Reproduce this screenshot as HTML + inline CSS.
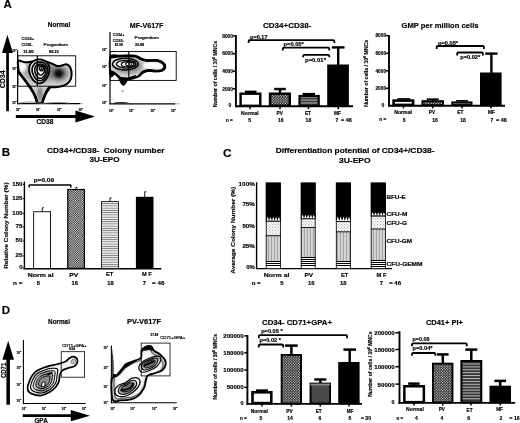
<!DOCTYPE html>
<html><head><meta charset="utf-8"><title>Figure</title>
<style>
html,body{margin:0;padding:0;background:#fff;}
body{width:520px;height:423px;overflow:hidden;}
svg{display:block;font-family:"Liberation Sans",Arial,Helvetica,sans-serif;}
text{stroke:#000;stroke-width:.16px;}
</style></head><body>
<svg width="520" height="423" viewBox="0 0 520 423">
<defs>
<pattern id="chk" width="2.3" height="2.3" patternUnits="userSpaceOnUse"><rect width="2.3" height="2.3" fill="#fff"/><rect width="1.15" height="1.15" fill="#000"/><rect x="1.15" y="1.15" width="1.15" height="1.15" fill="#000"/></pattern>
<pattern id="chkA" width="2.6" height="2.6" patternUnits="userSpaceOnUse"><rect width="2.6" height="2.6" fill="#000"/><circle cx="0.65" cy="0.65" r="0.66" fill="#fff"/><circle cx="1.95" cy="1.95" r="0.66" fill="#fff"/></pattern>
<pattern id="hsA" width="4" height="2.9" patternUnits="userSpaceOnUse"><rect width="4" height="2.9" fill="#111"/><rect y="0.8" width="4" height="1.4" fill="#bdbdbd"/></pattern>
<pattern id="hsB" width="4" height="2.25" patternUnits="userSpaceOnUse"><rect width="4" height="2.25" fill="#f6f6f6"/><rect y="0.7" width="4" height="0.9" fill="#777"/></pattern>
<pattern id="hsC" width="4" height="2.2" patternUnits="userSpaceOnUse"><rect width="4" height="2.2" fill="#eee"/><rect y="0.6" width="4" height="1" fill="#222"/></pattern>
<pattern id="vs" width="3" height="4" patternUnits="userSpaceOnUse"><rect width="3" height="4" fill="#dcdcdc"/><rect x="0.8" width="1.3" height="4" fill="#a4a4a4"/></pattern>
<pattern id="dot" width="3" height="3" patternUnits="userSpaceOnUse"><rect width="3" height="3" fill="#fafafa"/><rect x="0.5" y="0.5" width="0.9" height="0.9" fill="#999"/><rect x="2" y="2" width="0.9" height="0.9" fill="#999"/></pattern>
<pattern id="tri" width="3.4" height="3.4" patternUnits="userSpaceOnUse"><rect width="3.4" height="3.4" fill="#000"/><path d="M0 1.7L1.7 0L3.4 1.7L1.7 3.4Z" fill="#fff"/></pattern>
<radialGradient id="rg1"><stop offset="0" stop-color="#1a1a1a"/><stop offset="0.45" stop-color="#555"/><stop offset="1" stop-color="#999" stop-opacity="0"/></radialGradient>
<filter id="soft" x="0" y="0" width="100%" height="100%" filterUnits="userSpaceOnUse"><feGaussianBlur stdDeviation="0.38"/></filter>
<filter id="b1" x="-20%" y="-20%" width="140%" height="140%"><feGaussianBlur stdDeviation="0.5"/></filter>
<filter id="b2" x="-30%" y="-30%" width="160%" height="160%"><feGaussianBlur stdDeviation="1.2"/></filter>
<filter id="b3" x="-30%" y="-30%" width="160%" height="160%"><feGaussianBlur stdDeviation="2.2"/></filter>
</defs>
<rect width="520" height="423" fill="#fff"/>
<g filter="url(#soft)">

<text x="3.50" y="8.32" font-size="11.5" font-weight="bold" text-anchor="start" fill="#000">A</text>
<text x="1.80" y="155.62" font-size="11.5" font-weight="bold" text-anchor="start" fill="#000">B</text>
<text x="222.90" y="156.52" font-size="11.8" font-weight="bold" text-anchor="start" fill="#000">C</text>
<text x="1.80" y="313.62" font-size="11.5" font-weight="bold" text-anchor="start" fill="#000">D</text>
<g id="flowA1">
<text x="59.00" y="27.03" font-size="6.8" font-weight="bold" text-anchor="middle" fill="#000" textLength="22.5" lengthAdjust="spacingAndGlyphs">Normal</text>
<path d="M7.4 34.8L13 53.1H8.9V111.3H6.2V53.1H2Z" fill="#000"/>
<path d="M15.8 115.1H75.4V110.5L95 116.5L75.4 122.5V117.9H15.8Z" fill="#000"/>
<text transform="translate(5.13 79.30) rotate(-90)" font-size="6.5" font-weight="bold" text-anchor="middle" fill="#000" textLength="18.0" lengthAdjust="spacingAndGlyphs">CD34</text>
<text x="45.00" y="123.99" font-size="6.4" font-weight="bold" text-anchor="middle" fill="#000" textLength="16.8" lengthAdjust="spacingAndGlyphs">CD38</text>
<line x1="17.60" y1="50.00" x2="17.60" y2="104.20" stroke="#000" stroke-width="1.2" stroke-linecap="butt"/>
<line x1="17.00" y1="103.70" x2="80.00" y2="103.70" stroke="#000" stroke-width="1.2" stroke-linecap="butt"/>
<line x1="80.00" y1="103.70" x2="83.00" y2="103.70" stroke="#999" stroke-width="1.0" stroke-linecap="butt"/>
<text x="21.50" y="40.10" font-size="4.2" font-weight="normal" text-anchor="start" fill="#000" textLength="12.6" lengthAdjust="spacingAndGlyphs" style="stroke-width:.22px">CD34+</text>
<text x="21.50" y="45.50" font-size="4.2" font-weight="normal" text-anchor="start" fill="#000" textLength="11.0" lengthAdjust="spacingAndGlyphs" style="stroke-width:.22px">CD38-</text>
<text x="23.20" y="53.37" font-size="3" font-weight="bold" text-anchor="start" fill="#000" textLength="10.4" lengthAdjust="spacingAndGlyphs">11.90</text>
<text x="43.50" y="45.50" font-size="4.2" font-weight="normal" text-anchor="start" fill="#000" textLength="24.5" lengthAdjust="spacingAndGlyphs" style="stroke-width:.22px">Progenitors</text>
<text x="49.00" y="53.37" font-size="3" font-weight="bold" text-anchor="start" fill="#000" textLength="9.6" lengthAdjust="spacingAndGlyphs">88.10</text>
<text x="12.20" y="52.14" font-size="2.9" font-weight="bold" text-anchor="start" fill="#000" textLength="3.2" lengthAdjust="spacingAndGlyphs">10</text>
<text x="15.40" y="50.22" font-size="2" font-weight="bold" text-anchor="start" fill="#000" textLength="1.2" lengthAdjust="spacingAndGlyphs">3</text>
<text x="12.20" y="69.64" font-size="2.9" font-weight="bold" text-anchor="start" fill="#000" textLength="3.2" lengthAdjust="spacingAndGlyphs">10</text>
<text x="15.40" y="67.72" font-size="2" font-weight="bold" text-anchor="start" fill="#000" textLength="1.2" lengthAdjust="spacingAndGlyphs">2</text>
<text x="12.20" y="88.14" font-size="2.9" font-weight="bold" text-anchor="start" fill="#000" textLength="3.2" lengthAdjust="spacingAndGlyphs">10</text>
<text x="15.40" y="86.22" font-size="2" font-weight="bold" text-anchor="start" fill="#000" textLength="1.2" lengthAdjust="spacingAndGlyphs">1</text>
<text x="12.20" y="104.14" font-size="2.9" font-weight="bold" text-anchor="start" fill="#000" textLength="3.2" lengthAdjust="spacingAndGlyphs">10</text>
<text x="15.40" y="102.22" font-size="2" font-weight="bold" text-anchor="start" fill="#000" textLength="1.2" lengthAdjust="spacingAndGlyphs">0</text>
<text x="16.00" y="110.64" font-size="2.9" font-weight="bold" text-anchor="start" fill="#000" textLength="3.2" lengthAdjust="spacingAndGlyphs">10</text>
<text x="19.30" y="108.72" font-size="2" font-weight="bold" text-anchor="start" fill="#000" textLength="1.2" lengthAdjust="spacingAndGlyphs">0</text>
<text x="36.00" y="110.64" font-size="2.9" font-weight="bold" text-anchor="start" fill="#000" textLength="3.2" lengthAdjust="spacingAndGlyphs">10</text>
<text x="39.30" y="108.72" font-size="2" font-weight="bold" text-anchor="start" fill="#000" textLength="1.2" lengthAdjust="spacingAndGlyphs">1</text>
<text x="57.00" y="110.64" font-size="2.9" font-weight="bold" text-anchor="start" fill="#000" textLength="3.2" lengthAdjust="spacingAndGlyphs">10</text>
<text x="60.30" y="108.72" font-size="2" font-weight="bold" text-anchor="start" fill="#000" textLength="1.2" lengthAdjust="spacingAndGlyphs">2</text>
<text x="78.50" y="110.64" font-size="2.9" font-weight="bold" text-anchor="start" fill="#000" textLength="3.2" lengthAdjust="spacingAndGlyphs">10</text>
<text x="81.80" y="108.72" font-size="2" font-weight="bold" text-anchor="start" fill="#000" textLength="1.2" lengthAdjust="spacingAndGlyphs">3</text>
<clipPath id="cA1"><path d="M18.3 60.6C19.4 59.8 22.3 62.2 25.0 62.3C27.7 62.4 31.4 61.4 34.6 61.2C37.8 61.0 41.3 60.6 44.2 61.0C47.1 61.4 49.8 62.8 52.0 63.6C54.2 64.4 56.0 65.7 57.7 66.0C59.4 66.3 60.6 65.8 62.0 65.5C63.4 65.2 64.9 63.9 66.3 64.2C67.7 64.5 69.3 65.5 70.2 67.3C71.1 69.1 71.7 72.6 71.6 75.0C71.5 77.4 70.8 79.9 69.4 81.7C68.1 83.5 65.8 84.7 63.5 85.6C61.2 86.5 58.1 87.0 55.8 87.3C53.5 87.6 51.1 86.8 49.5 87.5C47.9 88.2 47.4 89.5 46.4 91.3C45.4 93.0 44.3 96.1 43.6 98.0C42.9 99.9 43.2 101.8 42.2 102.5C41.2 103.2 38.4 103.4 37.3 102.5C36.2 101.6 36.2 98.9 35.4 97.0C34.6 95.1 33.8 93.2 32.7 91.3C31.6 89.4 30.2 87.7 28.8 85.6C27.4 83.5 25.6 80.9 24.0 78.8C22.4 76.7 20.4 75.0 19.4 73.0C18.4 71.0 18.4 69.1 18.2 67.0C18.0 64.9 17.2 61.4 18.3 60.6Z"/></clipPath>
<path d="M18.3 60.6C19.4 59.8 22.3 62.2 25.0 62.3C27.7 62.4 31.4 61.4 34.6 61.2C37.8 61.0 41.3 60.6 44.2 61.0C47.1 61.4 49.8 62.8 52.0 63.6C54.2 64.4 56.0 65.7 57.7 66.0C59.4 66.3 60.6 65.8 62.0 65.5C63.4 65.2 64.9 63.9 66.3 64.2C67.7 64.5 69.3 65.5 70.2 67.3C71.1 69.1 71.7 72.6 71.6 75.0C71.5 77.4 70.8 79.9 69.4 81.7C68.1 83.5 65.8 84.7 63.5 85.6C61.2 86.5 58.1 87.0 55.8 87.3C53.5 87.6 51.1 86.8 49.5 87.5C47.9 88.2 47.4 89.5 46.4 91.3C45.4 93.0 44.3 96.1 43.6 98.0C42.9 99.9 43.2 101.8 42.2 102.5C41.2 103.2 38.4 103.4 37.3 102.5C36.2 101.6 36.2 98.9 35.4 97.0C34.6 95.1 33.8 93.2 32.7 91.3C31.6 89.4 30.2 87.7 28.8 85.6C27.4 83.5 25.6 80.9 24.0 78.8C22.4 76.7 20.4 75.0 19.4 73.0C18.4 71.0 18.4 69.1 18.2 67.0C18.0 64.9 17.2 61.4 18.3 60.6Z" fill="#cfcfcf"/>
<g clip-path="url(#cA1)">
<ellipse cx="41" cy="70" rx="17" ry="12" fill="#9a9a9a" filter="url(#b3)"/>
<ellipse cx="58.7" cy="73.5" rx="9" ry="7.5" fill="#6a6a6a" filter="url(#b3)"/>
<ellipse cx="58.7" cy="73.5" rx="4.5" ry="4" fill="#111" filter="url(#b2)"/>
<ellipse cx="40" cy="94" rx="3" ry="7" fill="#888" filter="url(#b2)"/>
<ellipse cx="22.5" cy="67" rx="3.6" ry="4.2" fill="#fff" filter="url(#b2)"/>
</g>
<path d="M19.4 73Q24 78.8 28.8 85.6T35.4 97L37.2 102.4" fill="none" stroke="#000" stroke-width="2.6" stroke-linecap="round"/>
<path d="M49.5 87.6Q46.6 91 43.8 98L42.4 102.4" fill="none" stroke="#000" stroke-width="2.6" stroke-linecap="round"/>
<path d="M18.3 60.6C19.4 59.8 22.3 62.2 25.0 62.3C27.7 62.4 31.4 61.4 34.6 61.2C37.8 61.0 41.3 60.6 44.2 61.0C47.1 61.4 49.8 62.8 52.0 63.6C54.2 64.4 56.0 65.7 57.7 66.0C59.4 66.3 60.6 65.8 62.0 65.5C63.4 65.2 64.9 63.9 66.3 64.2C67.7 64.5 69.3 65.5 70.2 67.3C71.1 69.1 71.7 72.6 71.6 75.0C71.5 77.4 70.8 79.9 69.4 81.7C68.1 83.5 65.8 84.7 63.5 85.6C61.2 86.5 58.1 87.0 55.8 87.3C53.5 87.6 51.1 86.8 49.5 87.5C47.9 88.2 47.4 89.5 46.4 91.3C45.4 93.0 44.3 96.1 43.6 98.0C42.9 99.9 43.2 101.8 42.2 102.5C41.2 103.2 38.4 103.4 37.3 102.5C36.2 101.6 36.2 98.9 35.4 97.0C34.6 95.1 33.8 93.2 32.7 91.3C31.6 89.4 30.2 87.7 28.8 85.6C27.4 83.5 25.6 80.9 24.0 78.8C22.4 76.7 20.4 75.0 19.4 73.0C18.4 71.0 18.4 69.1 18.2 67.0C18.0 64.9 17.2 61.4 18.3 60.6Z" fill="none" stroke="#000" stroke-width="2" stroke-linejoin="round"/>
<path d="M49.3 71.4C49.1 72.9 48.5 74.6 47.9 76.0C47.3 77.4 46.4 78.8 45.5 79.9C44.6 81.0 43.5 81.9 42.5 82.5C41.5 83.1 40.4 83.4 39.3 83.4C38.2 83.4 37.1 83.1 36.1 82.5C35.1 81.9 34.0 81.0 33.1 79.9C32.2 78.8 31.3 77.4 30.7 76.0C30.1 74.6 29.5 72.9 29.3 71.4C29.1 69.9 29.1 68.2 29.4 66.8C29.8 65.4 30.4 64.0 31.3 62.9C32.2 61.8 33.5 60.9 34.8 60.3C36.2 59.7 37.8 59.4 39.3 59.4C40.8 59.4 42.4 59.7 43.8 60.3C45.1 60.9 46.4 61.8 47.3 62.9C48.2 64.0 48.8 65.4 49.2 66.8C49.5 68.2 49.5 69.9 49.3 71.4Z" fill="#f4f4f4"/>
<path d="M49.3 71.4C49.1 72.9 48.5 74.6 47.9 76.0C47.3 77.4 46.4 78.8 45.5 79.9C44.6 81.0 43.5 81.9 42.5 82.5C41.5 83.1 40.4 83.4 39.3 83.4C38.2 83.4 37.1 83.1 36.1 82.5C35.1 81.9 34.0 81.0 33.1 79.9C32.2 78.8 31.3 77.4 30.7 76.0C30.1 74.6 29.5 72.9 29.3 71.4C29.1 69.9 29.1 68.2 29.4 66.8C29.8 65.4 30.4 64.0 31.3 62.9C32.2 61.8 33.5 60.9 34.8 60.3C36.2 59.7 37.8 59.4 39.3 59.4C40.8 59.4 42.4 59.7 43.8 60.3C45.1 60.9 46.4 61.8 47.3 62.9C48.2 64.0 48.8 65.4 49.2 66.8C49.5 68.2 49.5 69.9 49.3 71.4Z" fill="none" stroke="#000" stroke-width="1.9"/>
<path d="M47.6 71.3C47.4 72.5 47.0 73.8 46.5 74.9C46.0 76.0 45.3 77.1 44.7 77.9C44.0 78.8 43.1 79.5 42.4 80.0C41.6 80.4 40.7 80.7 39.9 80.7C39.1 80.7 38.2 80.4 37.4 80.0C36.7 79.5 35.8 78.8 35.1 77.9C34.5 77.1 33.8 76.0 33.3 74.9C32.8 73.8 32.4 72.5 32.2 71.3C32.0 70.1 32.0 68.8 32.3 67.7C32.6 66.6 33.1 65.5 33.8 64.7C34.5 63.8 35.4 63.1 36.5 62.6C37.5 62.2 38.8 61.9 39.9 61.9C41.0 61.9 42.3 62.2 43.3 62.6C44.4 63.1 45.3 63.8 46.0 64.7C46.7 65.5 47.2 66.6 47.5 67.7C47.8 68.8 47.8 70.1 47.6 71.3Z" fill="none" stroke="#000" stroke-width="1.7"/>
<path d="M46.0 71.1C45.9 72.0 45.6 73.0 45.2 73.9C44.9 74.7 44.4 75.5 43.9 76.2C43.4 76.8 42.8 77.4 42.2 77.8C41.6 78.1 41.0 78.3 40.4 78.3C39.8 78.3 39.2 78.1 38.6 77.8C38.0 77.4 37.4 76.8 36.9 76.2C36.4 75.5 35.9 74.7 35.6 73.9C35.2 73.0 34.9 72.0 34.8 71.1C34.7 70.2 34.7 69.2 34.9 68.3C35.1 67.5 35.4 66.7 35.9 66.0C36.4 65.4 37.2 64.8 37.9 64.4C38.6 64.1 39.6 63.9 40.4 63.9C41.2 63.9 42.2 64.1 42.9 64.4C43.6 64.8 44.4 65.4 44.9 66.0C45.4 66.7 45.7 67.5 45.9 68.3C46.1 69.2 46.1 70.2 46.0 71.1Z" fill="none" stroke="#000" stroke-width="1.5"/>
<path d="M44.6 70.1C44.5 70.7 44.3 71.4 44.1 72.0C43.8 72.6 43.5 73.2 43.1 73.6C42.8 74.1 42.4 74.5 42.0 74.7C41.6 75.0 41.2 75.1 40.8 75.1C40.4 75.1 40.0 75.0 39.6 74.7C39.2 74.5 38.8 74.1 38.5 73.6C38.1 73.2 37.8 72.6 37.5 72.0C37.3 71.4 37.1 70.7 37.0 70.1C36.9 69.5 36.9 68.8 37.0 68.2C37.2 67.6 37.4 67.0 37.8 66.6C38.1 66.1 38.6 65.7 39.1 65.5C39.6 65.2 40.2 65.1 40.8 65.1C41.4 65.1 42.0 65.2 42.5 65.5C43.0 65.7 43.5 66.1 43.8 66.6C44.2 67.0 44.4 67.6 44.6 68.2C44.7 68.8 44.7 69.5 44.6 70.1Z" fill="none" stroke="#000" stroke-width="1.4"/>
<path d="M43.6 68.6C43.6 68.9 43.4 69.2 43.3 69.5C43.2 69.8 43.0 70.0 42.8 70.2C42.6 70.4 42.4 70.6 42.2 70.7C42.0 70.8 41.7 70.9 41.5 70.9C41.3 70.9 41.0 70.8 40.8 70.7C40.6 70.6 40.4 70.4 40.2 70.2C40.0 70.0 39.8 69.8 39.7 69.5C39.6 69.2 39.4 68.9 39.4 68.6C39.4 68.3 39.4 68.0 39.4 67.7C39.5 67.4 39.6 67.2 39.8 67.0C40.0 66.8 40.3 66.6 40.6 66.5C40.8 66.4 41.2 66.3 41.5 66.3C41.8 66.3 42.2 66.4 42.4 66.5C42.7 66.6 43.0 66.8 43.2 67.0C43.4 67.2 43.5 67.4 43.6 67.7C43.6 68.0 43.6 68.3 43.6 68.6Z" fill="none" stroke="#000" stroke-width="1.4"/>
<path d="M41.6 66.8L43 70L40.2 69.6Z" fill="#000"/>
<rect x="17.9" y="55.8" width="57.8" height="30.4" fill="none" stroke="#000" stroke-width="0.9"/>
<line x1="37.30" y1="55.80" x2="37.30" y2="86.20" stroke="#000" stroke-width="1.2" stroke-linecap="butt"/>
<path d="M19 103.2Q30 101.2 36 102.6T50 102.8T70 103.2" fill="none" stroke="#777" stroke-width="0.8"/>
</g>
<g id="flowA2">
<text x="146.60" y="28.12" font-size="7.6" font-weight="bold" text-anchor="middle" fill="#000" textLength="33.7" lengthAdjust="spacingAndGlyphs">MF-V617F</text>
<line x1="110.00" y1="32.00" x2="110.00" y2="104.20" stroke="#000" stroke-width="1.2" stroke-linecap="butt"/>
<line x1="109.40" y1="103.80" x2="175.00" y2="103.80" stroke="#000" stroke-width="1.2" stroke-linecap="butt"/>
<line x1="175.00" y1="103.80" x2="180.00" y2="103.80" stroke="#aaa" stroke-width="1" stroke-linecap="butt"/>
<text x="112.80" y="36.03" font-size="4" font-weight="normal" text-anchor="start" fill="#000" textLength="11.5" lengthAdjust="spacingAndGlyphs" style="stroke-width:.22px">CD34+</text>
<text x="112.80" y="41.63" font-size="4" font-weight="normal" text-anchor="start" fill="#000" textLength="11.0" lengthAdjust="spacingAndGlyphs" style="stroke-width:.22px">CD38-</text>
<text x="114.80" y="45.84" font-size="2.9" font-weight="bold" text-anchor="start" fill="#000" textLength="8.0" lengthAdjust="spacingAndGlyphs">91.59</text>
<text x="134.60" y="38.50" font-size="4.2" font-weight="normal" text-anchor="start" fill="#000" textLength="24.2" lengthAdjust="spacingAndGlyphs" style="stroke-width:.22px">Progenitors</text>
<text x="135.00" y="45.64" font-size="2.9" font-weight="bold" text-anchor="start" fill="#000" textLength="9.0" lengthAdjust="spacingAndGlyphs">33.99</text>
<text x="102.00" y="51.14" font-size="2.9" font-weight="bold" text-anchor="start" fill="#000" textLength="3.4" lengthAdjust="spacingAndGlyphs">10</text>
<text x="105.50" y="49.22" font-size="2" font-weight="bold" text-anchor="start" fill="#000" textLength="1.3" lengthAdjust="spacingAndGlyphs">3</text>
<text x="102.00" y="68.14" font-size="2.9" font-weight="bold" text-anchor="start" fill="#000" textLength="3.4" lengthAdjust="spacingAndGlyphs">10</text>
<text x="105.50" y="66.22" font-size="2" font-weight="bold" text-anchor="start" fill="#000" textLength="1.3" lengthAdjust="spacingAndGlyphs">2</text>
<text x="102.00" y="87.14" font-size="2.9" font-weight="bold" text-anchor="start" fill="#000" textLength="3.4" lengthAdjust="spacingAndGlyphs">10</text>
<text x="105.50" y="85.22" font-size="2" font-weight="bold" text-anchor="start" fill="#000" textLength="1.3" lengthAdjust="spacingAndGlyphs">1</text>
<text x="102.00" y="104.14" font-size="2.9" font-weight="bold" text-anchor="start" fill="#000" textLength="3.4" lengthAdjust="spacingAndGlyphs">10</text>
<text x="105.50" y="102.22" font-size="2" font-weight="bold" text-anchor="start" fill="#000" textLength="1.3" lengthAdjust="spacingAndGlyphs">0</text>
<text x="109.00" y="111.64" font-size="2.9" font-weight="bold" text-anchor="start" fill="#000" textLength="3.4" lengthAdjust="spacingAndGlyphs">10</text>
<text x="112.50" y="109.72" font-size="2" font-weight="bold" text-anchor="start" fill="#000" textLength="1.3" lengthAdjust="spacingAndGlyphs">0</text>
<text x="129.00" y="111.64" font-size="2.9" font-weight="bold" text-anchor="start" fill="#000" textLength="3.4" lengthAdjust="spacingAndGlyphs">10</text>
<text x="132.50" y="109.72" font-size="2" font-weight="bold" text-anchor="start" fill="#000" textLength="1.3" lengthAdjust="spacingAndGlyphs">1</text>
<text x="150.50" y="111.64" font-size="2.9" font-weight="bold" text-anchor="start" fill="#000" textLength="3.4" lengthAdjust="spacingAndGlyphs">10</text>
<text x="154.00" y="109.72" font-size="2" font-weight="bold" text-anchor="start" fill="#000" textLength="1.3" lengthAdjust="spacingAndGlyphs">2</text>
<text x="171.00" y="111.64" font-size="2.9" font-weight="bold" text-anchor="start" fill="#000" textLength="3.4" lengthAdjust="spacingAndGlyphs">10</text>
<text x="174.50" y="109.72" font-size="2" font-weight="bold" text-anchor="start" fill="#000" textLength="1.3" lengthAdjust="spacingAndGlyphs">3</text>
<clipPath id="cA2"><path d="M110.6 57.0C112.2 53.7 115.9 56.0 120.0 55.8C124.1 55.6 131.4 55.2 135.0 55.8C138.6 56.3 139.2 58.3 141.3 59.1C143.4 59.9 144.8 60.2 147.5 60.4C150.2 60.6 154.8 59.9 157.5 60.4C160.2 60.9 162.5 62.2 163.8 63.4C165.1 64.6 165.5 66.2 165.2 67.4C164.9 68.6 163.6 70.0 161.9 70.6C160.2 71.2 157.2 71.2 155.0 71.2C152.8 71.2 150.9 70.4 148.8 70.6C146.7 70.8 144.2 71.5 142.5 72.4C140.8 73.3 140.5 75.1 138.8 76.1C137.1 77.1 134.4 78.0 132.5 78.6C130.6 79.2 128.9 78.5 127.5 79.5C126.0 80.5 124.8 84.0 123.8 84.5C122.8 85.0 122.1 83.6 121.3 82.4C120.5 81.2 119.9 79.0 118.8 77.6C117.7 76.2 115.8 74.1 114.4 73.8C113.0 73.5 111.2 78.3 110.6 75.5C110.0 72.7 109.0 60.3 110.6 57.0Z"/></clipPath>
<path d="M110.6 57.0C112.2 53.7 115.9 56.0 120.0 55.8C124.1 55.6 131.4 55.2 135.0 55.8C138.6 56.3 139.2 58.3 141.3 59.1C143.4 59.9 144.8 60.2 147.5 60.4C150.2 60.6 154.8 59.9 157.5 60.4C160.2 60.9 162.5 62.2 163.8 63.4C165.1 64.6 165.5 66.2 165.2 67.4C164.9 68.6 163.6 70.0 161.9 70.6C160.2 71.2 157.2 71.2 155.0 71.2C152.8 71.2 150.9 70.4 148.8 70.6C146.7 70.8 144.2 71.5 142.5 72.4C140.8 73.3 140.5 75.1 138.8 76.1C137.1 77.1 134.4 78.0 132.5 78.6C130.6 79.2 128.9 78.5 127.5 79.5C126.0 80.5 124.8 84.0 123.8 84.5C122.8 85.0 122.1 83.6 121.3 82.4C120.5 81.2 119.9 79.0 118.8 77.6C117.7 76.2 115.8 74.1 114.4 73.8C113.0 73.5 111.2 78.3 110.6 75.5C110.0 72.7 109.0 60.3 110.6 57.0Z" fill="#e2e2e2"/>
<g clip-path="url(#cA2)">
<ellipse cx="128" cy="66" rx="15" ry="8" fill="#8c8c8c" filter="url(#b3)"/>
<ellipse cx="153" cy="65.6" rx="10" ry="3" fill="#fff" filter="url(#b2)"/>
<path d="M110 69.5L115 72L121 77L128 77.4L136 75L136 82L110 84Z" fill="#000" filter="url(#b1)"/>
</g>
<path d="M110.6 57.0C112.2 53.7 115.9 56.0 120.0 55.8C124.1 55.6 131.4 55.2 135.0 55.8C138.6 56.3 139.2 58.3 141.3 59.1C143.4 59.9 144.8 60.2 147.5 60.4C150.2 60.6 154.8 59.9 157.5 60.4C160.2 60.9 162.5 62.2 163.8 63.4C165.1 64.6 165.5 66.2 165.2 67.4C164.9 68.6 163.6 70.0 161.9 70.6C160.2 71.2 157.2 71.2 155.0 71.2C152.8 71.2 150.9 70.4 148.8 70.6C146.7 70.8 144.2 71.5 142.5 72.4C140.8 73.3 140.5 75.1 138.8 76.1C137.1 77.1 134.4 78.0 132.5 78.6C130.6 79.2 128.9 78.5 127.5 79.5C126.0 80.5 124.8 84.0 123.8 84.5C122.8 85.0 122.1 83.6 121.3 82.4C120.5 81.2 119.9 79.0 118.8 77.6C117.7 76.2 115.8 74.1 114.4 73.8C113.0 73.5 111.2 78.3 110.6 75.5C110.0 72.7 109.0 60.3 110.6 57.0Z" fill="none" stroke="#000" stroke-width="2.1" stroke-linejoin="round"/>
<path d="M139.0 57.8C139.7 58.1 141.6 59.3 143.0 59.8C144.4 60.3 145.1 60.5 147.5 60.6C149.9 60.7 154.8 60.1 157.5 60.6C160.2 61.1 162.2 62.3 163.4 63.4C164.6 64.5 164.9 66.2 164.6 67.4C164.3 68.6 163.2 69.8 161.6 70.4C160.0 71.0 157.1 71.0 155.0 71.0C152.9 71.0 150.7 70.3 148.8 70.4C146.9 70.5 145.0 71.0 143.5 71.8C142.0 72.6 140.2 74.8 139.6 75.4" fill="none" stroke="#000" stroke-width="2.7" stroke-linecap="round"/>
<path d="M110.6 57.2Q122 55.4 135 56.2L139 57.8" fill="none" stroke="#000" stroke-width="2.5" stroke-linecap="round"/>
<ellipse cx="125.3" cy="64.1" rx="12.8" ry="5.8" fill="#f2f2f2"/>
<ellipse cx="125.3" cy="64.1" rx="12.8" ry="5.8" fill="none" stroke="#000" stroke-width="1.5"/>
<ellipse cx="126.3" cy="64.2" rx="10.0" ry="3.9" fill="none" stroke="#000" stroke-width="1.3"/>
<ellipse cx="128.2" cy="64.2" rx="6.9" ry="2.6" fill="none" stroke="#000" stroke-width="1.2"/>
<ellipse cx="129.7" cy="64.1" rx="4.1" ry="2.0" fill="none" stroke="#000" stroke-width="1.1"/>
<ellipse cx="130.6" cy="64" rx="1.2" ry="1.1" fill="#fff" stroke="#000" stroke-width="0.9"/>
<rect x="110.2" y="51.5" width="66" height="28.9" fill="none" stroke="#000" stroke-width="0.9"/>
<line x1="128.80" y1="51.50" x2="128.80" y2="80.40" stroke="#000" stroke-width="1.1" stroke-linecap="butt"/>
<ellipse cx="122.7" cy="91" rx="1" ry="0.6" fill="#222"/>
<path d="M111 103.4Q121 100.6 131 103.2Z" fill="#222"/>
</g>
<g id="barA1">
<text x="287.20" y="28.26" font-size="8" font-weight="bold" text-anchor="middle" fill="#000" textLength="48.4" lengthAdjust="spacingAndGlyphs">CD34+CD38-</text>
<text transform="translate(216.53 74.15) rotate(-90)" font-size="5.4" font-weight="bold" text-anchor="middle" fill="#000" textLength="66.3" lengthAdjust="spacingAndGlyphs">Number of cells / 10<tspan font-size="3.4" dy="-2">6</tspan><tspan dy="2"> MNCs</tspan></text>
<line x1="235.90" y1="35.00" x2="235.90" y2="107.20" stroke="#000" stroke-width="1.9" stroke-linecap="butt"/>
<line x1="235.00" y1="106.30" x2="353.00" y2="106.30" stroke="#000" stroke-width="1.9" stroke-linecap="butt"/>
<text x="233.00" y="37.79" font-size="5" font-weight="bold" text-anchor="end" fill="#000" textLength="10.8" lengthAdjust="spacingAndGlyphs">8000</text>
<line x1="232.90" y1="36.00" x2="235.60" y2="36.00" stroke="#000" stroke-width="1.5" stroke-linecap="butt"/>
<text x="233.00" y="55.49" font-size="5" font-weight="bold" text-anchor="end" fill="#000" textLength="10.8" lengthAdjust="spacingAndGlyphs">6000</text>
<line x1="232.90" y1="53.70" x2="235.60" y2="53.70" stroke="#000" stroke-width="1.5" stroke-linecap="butt"/>
<text x="233.00" y="72.99" font-size="5" font-weight="bold" text-anchor="end" fill="#000" textLength="10.8" lengthAdjust="spacingAndGlyphs">4000</text>
<line x1="232.90" y1="71.20" x2="235.60" y2="71.20" stroke="#000" stroke-width="1.5" stroke-linecap="butt"/>
<text x="233.00" y="90.59" font-size="5" font-weight="bold" text-anchor="end" fill="#000" textLength="10.8" lengthAdjust="spacingAndGlyphs">2000</text>
<line x1="232.90" y1="88.80" x2="235.60" y2="88.80" stroke="#000" stroke-width="1.5" stroke-linecap="butt"/>
<text x="231.30" y="107.19" font-size="5" font-weight="bold" text-anchor="end" fill="#000">0</text>
<line x1="250.00" y1="106.70" x2="250.00" y2="109.20" stroke="#000" stroke-width="1.5" stroke-linecap="butt"/>
<line x1="280.00" y1="106.70" x2="280.00" y2="109.20" stroke="#000" stroke-width="1.5" stroke-linecap="butt"/>
<line x1="308.50" y1="106.70" x2="308.50" y2="109.20" stroke="#000" stroke-width="1.5" stroke-linecap="butt"/>
<line x1="338.30" y1="106.70" x2="338.30" y2="109.20" stroke="#000" stroke-width="1.5" stroke-linecap="butt"/>
<line x1="250.70" y1="91.80" x2="250.70" y2="93.00" stroke="#000" stroke-width="2.4" stroke-linecap="butt"/>
<line x1="244.90" y1="91.80" x2="256.50" y2="91.80" stroke="#000" stroke-width="2.4" stroke-linecap="butt"/>
<rect x="240.60" y="93.70" width="19.70" height="12.10" fill="#fff" stroke="#000" stroke-width="2.4"/>
<line x1="280.00" y1="89.00" x2="280.00" y2="93.00" stroke="#000" stroke-width="2.4" stroke-linecap="butt"/>
<line x1="274.20" y1="89.00" x2="285.80" y2="89.00" stroke="#000" stroke-width="2.4" stroke-linecap="butt"/>
<rect x="270.05" y="93.75" width="19.70" height="12.00" fill="url(#chkA)" stroke="#000" stroke-width="2.5"/>
<line x1="308.80" y1="94.00" x2="308.80" y2="95.00" stroke="#000" stroke-width="2.2" stroke-linecap="butt"/>
<line x1="302.60" y1="94.00" x2="315.00" y2="94.00" stroke="#000" stroke-width="2.2" stroke-linecap="butt"/>
<rect x="299.50" y="96.00" width="19.20" height="9.90" fill="url(#hsA)" stroke="#000" stroke-width="2.2"/>
<line x1="338.20" y1="47.40" x2="338.20" y2="65.00" stroke="#000" stroke-width="2.4" stroke-linecap="butt"/>
<line x1="331.90" y1="47.40" x2="344.50" y2="47.40" stroke="#000" stroke-width="2.4" stroke-linecap="butt"/>
<rect x="327.20" y="64.50" width="21.70" height="42.50" fill="#000"/>
<path d="M248.60 43.00V41.40Q248.60 40.20 249.80 40.20H333.20Q334.40 40.20 334.40 41.40V43.00" fill="none" stroke="#000" stroke-width="1.8"/>
<text x="250.00" y="38.86" font-size="5.2" font-weight="bold" text-anchor="start" fill="#000" textLength="17.5" lengthAdjust="spacingAndGlyphs">p=0.17</text>
<path d="M282.80 50.60V48.80Q282.80 47.60 284.00 47.60H328.10Q329.30 47.60 329.30 48.80V50.60" fill="none" stroke="#000" stroke-width="1.8"/>
<text x="283.60" y="46.06" font-size="5.2" font-weight="bold" text-anchor="start" fill="#000" textLength="20.2" lengthAdjust="spacingAndGlyphs">p=0.05*</text>
<path d="M303.20 57.20V56.00Q303.20 54.80 304.40 54.80H328.10Q329.30 54.80 329.30 56.00V57.20" fill="none" stroke="#000" stroke-width="1.8"/>
<text x="305.00" y="61.56" font-size="5.2" font-weight="bold" text-anchor="start" fill="#000" textLength="21.0" lengthAdjust="spacingAndGlyphs">p=0.01*</text>
<text x="249.90" y="114.76" font-size="5.2" font-weight="bold" text-anchor="middle" fill="#000" textLength="17.7" lengthAdjust="spacingAndGlyphs">Normal</text>
<text x="279.80" y="114.76" font-size="5.2" font-weight="bold" text-anchor="middle" fill="#000" textLength="6.4" lengthAdjust="spacingAndGlyphs">PV</text>
<text x="308.00" y="114.76" font-size="5.2" font-weight="bold" text-anchor="middle" fill="#000" textLength="6.2" lengthAdjust="spacingAndGlyphs">ET</text>
<text x="337.50" y="114.76" font-size="5.2" font-weight="bold" text-anchor="middle" fill="#000" textLength="7.0" lengthAdjust="spacingAndGlyphs">MF</text>
<text x="226.00" y="121.59" font-size="5" font-weight="bold" text-anchor="start" fill="#000" textLength="6.8" lengthAdjust="spacingAndGlyphs">n =</text>
<text x="249.60" y="121.69" font-size="5" font-weight="bold" text-anchor="middle" fill="#000">5</text>
<text x="280.80" y="121.69" font-size="5" font-weight="bold" text-anchor="middle" fill="#000">16</text>
<text x="308.40" y="121.69" font-size="5" font-weight="bold" text-anchor="middle" fill="#000">18</text>
<text x="336.80" y="121.69" font-size="5" font-weight="bold" text-anchor="middle" fill="#000">7</text>
<text x="341.00" y="121.69" font-size="5" font-weight="bold" text-anchor="start" fill="#000" textLength="10.8" lengthAdjust="spacingAndGlyphs">= 46</text>
</g>
<g id="barA2">
<text x="440.00" y="27.99" font-size="7.8" font-weight="bold" text-anchor="middle" fill="#000" textLength="77.0" lengthAdjust="spacingAndGlyphs">GMP per million cells</text>
<text transform="translate(367.53 73.30) rotate(-90)" font-size="5.4" font-weight="bold" text-anchor="middle" fill="#000" textLength="67.0" lengthAdjust="spacingAndGlyphs">Number of cells / 10<tspan font-size="3.4" dy="-2">6</tspan><tspan dy="2"> MNCs</tspan></text>
<line x1="389.00" y1="35.00" x2="389.00" y2="106.60" stroke="#000" stroke-width="1.9" stroke-linecap="butt"/>
<line x1="388.10" y1="105.70" x2="505.00" y2="105.70" stroke="#000" stroke-width="1.9" stroke-linecap="butt"/>
<text x="386.20" y="37.39" font-size="5" font-weight="bold" text-anchor="end" fill="#000" textLength="10.8" lengthAdjust="spacingAndGlyphs">8000</text>
<line x1="386.10" y1="35.60" x2="388.80" y2="35.60" stroke="#000" stroke-width="1.5" stroke-linecap="butt"/>
<text x="386.20" y="55.09" font-size="5" font-weight="bold" text-anchor="end" fill="#000" textLength="10.8" lengthAdjust="spacingAndGlyphs">6000</text>
<line x1="386.10" y1="53.30" x2="388.80" y2="53.30" stroke="#000" stroke-width="1.5" stroke-linecap="butt"/>
<text x="386.20" y="72.59" font-size="5" font-weight="bold" text-anchor="end" fill="#000" textLength="10.8" lengthAdjust="spacingAndGlyphs">4000</text>
<line x1="386.10" y1="70.80" x2="388.80" y2="70.80" stroke="#000" stroke-width="1.5" stroke-linecap="butt"/>
<text x="386.20" y="90.09" font-size="5" font-weight="bold" text-anchor="end" fill="#000" textLength="10.8" lengthAdjust="spacingAndGlyphs">2000</text>
<line x1="386.10" y1="88.30" x2="388.80" y2="88.30" stroke="#000" stroke-width="1.5" stroke-linecap="butt"/>
<text x="384.30" y="106.59" font-size="5" font-weight="bold" text-anchor="end" fill="#000">0</text>
<line x1="403.50" y1="105.80" x2="403.50" y2="108.40" stroke="#000" stroke-width="1.5" stroke-linecap="butt"/>
<line x1="432.70" y1="105.80" x2="432.70" y2="108.40" stroke="#000" stroke-width="1.5" stroke-linecap="butt"/>
<line x1="462.00" y1="105.80" x2="462.00" y2="108.40" stroke="#000" stroke-width="1.5" stroke-linecap="butt"/>
<line x1="491.00" y1="105.80" x2="491.00" y2="108.40" stroke="#000" stroke-width="1.5" stroke-linecap="butt"/>
<line x1="403.80" y1="99.00" x2="403.80" y2="100.00" stroke="#000" stroke-width="1.7" stroke-linecap="butt"/>
<line x1="397.30" y1="99.00" x2="410.30" y2="99.00" stroke="#000" stroke-width="1.7" stroke-linecap="butt"/>
<rect x="393.60" y="100.60" width="19.50" height="4.30" fill="#fff" stroke="#000" stroke-width="2.6"/>
<line x1="432.70" y1="99.20" x2="432.70" y2="101.00" stroke="#000" stroke-width="1.7" stroke-linecap="butt"/>
<line x1="426.70" y1="99.20" x2="438.70" y2="99.20" stroke="#000" stroke-width="1.7" stroke-linecap="butt"/>
<rect x="422.50" y="101.20" width="20.50" height="4.00" fill="url(#chkA)" stroke="#000" stroke-width="2.0"/>
<line x1="462.00" y1="100.80" x2="462.00" y2="102.00" stroke="#000" stroke-width="1.5" stroke-linecap="butt"/>
<line x1="456.00" y1="100.80" x2="468.00" y2="100.80" stroke="#000" stroke-width="1.5" stroke-linecap="butt"/>
<rect x="452.25" y="102.35" width="19.30" height="2.90" fill="url(#hsA)" stroke="#000" stroke-width="1.9"/>
<line x1="491.40" y1="53.60" x2="491.40" y2="73.00" stroke="#000" stroke-width="2.4" stroke-linecap="butt"/>
<line x1="485.25" y1="53.60" x2="497.55" y2="53.60" stroke="#000" stroke-width="2.4" stroke-linecap="butt"/>
<rect x="480.00" y="72.50" width="21.60" height="33.70" fill="#000"/>
<path d="M436.70 49.00V47.20Q436.70 46.00 437.90 46.00H482.70Q483.90 46.00 483.90 47.20V49.00" fill="none" stroke="#000" stroke-width="1.8"/>
<text x="438.00" y="44.66" font-size="5.2" font-weight="bold" text-anchor="start" fill="#000" textLength="20.0" lengthAdjust="spacingAndGlyphs">p=0.05*</text>
<path d="M457.20 55.50V53.70Q457.20 52.50 458.40 52.50H481.70Q482.90 52.50 482.90 53.70V55.50" fill="none" stroke="#000" stroke-width="1.8"/>
<text x="460.20" y="59.16" font-size="5.2" font-weight="bold" text-anchor="start" fill="#000" textLength="20.0" lengthAdjust="spacingAndGlyphs">p=0.02*</text>
<text x="403.10" y="114.06" font-size="5.2" font-weight="bold" text-anchor="middle" fill="#000" textLength="17.8" lengthAdjust="spacingAndGlyphs">Normal</text>
<text x="432.00" y="114.06" font-size="5.2" font-weight="bold" text-anchor="middle" fill="#000" textLength="6.4" lengthAdjust="spacingAndGlyphs">PV</text>
<text x="460.40" y="114.06" font-size="5.2" font-weight="bold" text-anchor="middle" fill="#000" textLength="6.2" lengthAdjust="spacingAndGlyphs">ET</text>
<text x="491.50" y="114.06" font-size="5.2" font-weight="bold" text-anchor="middle" fill="#000" textLength="7.0" lengthAdjust="spacingAndGlyphs">MF</text>
<text x="379.20" y="121.49" font-size="5" font-weight="bold" text-anchor="start" fill="#000" textLength="7.0" lengthAdjust="spacingAndGlyphs">n =</text>
<text x="404.20" y="121.59" font-size="5" font-weight="bold" text-anchor="middle" fill="#000">5</text>
<text x="435.00" y="121.59" font-size="5" font-weight="bold" text-anchor="middle" fill="#000">16</text>
<text x="463.00" y="121.59" font-size="5" font-weight="bold" text-anchor="middle" fill="#000">18</text>
<text x="491.90" y="121.59" font-size="5" font-weight="bold" text-anchor="middle" fill="#000">7</text>
<text x="496.00" y="121.59" font-size="5" font-weight="bold" text-anchor="start" fill="#000" textLength="10.8" lengthAdjust="spacingAndGlyphs">= 46</text>
</g>
<g id="panelB">
<text x="105.80" y="152.71" font-size="7.3" font-weight="bold" text-anchor="middle" fill="#000" textLength="117.4" lengthAdjust="spacingAndGlyphs" xml:space="preserve">CD34+/CD38-  Colony number</text>
<text x="104.50" y="162.21" font-size="7.3" font-weight="bold" text-anchor="middle" fill="#000" textLength="30.2" lengthAdjust="spacingAndGlyphs">3U-EPO</text>
<text transform="translate(8.31 225.60) rotate(-90)" font-size="5.9" font-weight="bold" text-anchor="middle" fill="#000" textLength="86.4" lengthAdjust="spacingAndGlyphs">Relative Colony Number (%)</text>
<line x1="24.40" y1="181.60" x2="24.40" y2="269.40" stroke="#000" stroke-width="1.4" stroke-linecap="butt"/>
<line x1="23.70" y1="268.80" x2="161.30" y2="268.80" stroke="#000" stroke-width="1.4" stroke-linecap="butt"/>
<text x="22.60" y="185.68" font-size="5.8" font-weight="bold" text-anchor="end" fill="#000" textLength="10.4" lengthAdjust="spacingAndGlyphs">150</text>
<line x1="22.80" y1="184.40" x2="24.40" y2="184.40" stroke="#000" stroke-width="0.9" stroke-linecap="butt"/>
<text x="22.60" y="199.88" font-size="5.8" font-weight="bold" text-anchor="end" fill="#000" textLength="10.4" lengthAdjust="spacingAndGlyphs">125</text>
<line x1="22.80" y1="198.60" x2="24.40" y2="198.60" stroke="#000" stroke-width="0.9" stroke-linecap="butt"/>
<text x="22.60" y="214.68" font-size="5.8" font-weight="bold" text-anchor="end" fill="#000" textLength="10.4" lengthAdjust="spacingAndGlyphs">100</text>
<line x1="22.80" y1="213.40" x2="24.40" y2="213.40" stroke="#000" stroke-width="0.9" stroke-linecap="butt"/>
<text x="22.60" y="228.28" font-size="5.8" font-weight="bold" text-anchor="end" fill="#000" textLength="7.0" lengthAdjust="spacingAndGlyphs">75</text>
<line x1="22.80" y1="227.00" x2="24.40" y2="227.00" stroke="#000" stroke-width="0.9" stroke-linecap="butt"/>
<text x="22.60" y="242.48" font-size="5.8" font-weight="bold" text-anchor="end" fill="#000" textLength="7.0" lengthAdjust="spacingAndGlyphs">50</text>
<line x1="22.80" y1="241.20" x2="24.40" y2="241.20" stroke="#000" stroke-width="0.9" stroke-linecap="butt"/>
<text x="22.60" y="257.28" font-size="5.8" font-weight="bold" text-anchor="end" fill="#000" textLength="7.0" lengthAdjust="spacingAndGlyphs">25</text>
<line x1="22.80" y1="256.00" x2="24.40" y2="256.00" stroke="#000" stroke-width="0.9" stroke-linecap="butt"/>
<text x="22.60" y="269.28" font-size="5.8" font-weight="bold" text-anchor="end" fill="#000" textLength="3.4" lengthAdjust="spacingAndGlyphs">0</text>
<line x1="22.80" y1="268.00" x2="24.40" y2="268.00" stroke="#000" stroke-width="0.9" stroke-linecap="butt"/>
<line x1="42.20" y1="207.70" x2="42.20" y2="212.00" stroke="#000" stroke-width="0.9" stroke-linecap="butt"/>
<line x1="42.20" y1="207.80" x2="44.00" y2="207.80" stroke="#000" stroke-width="0.9" stroke-linecap="butt"/>
<rect x="33.65" y="211.75" width="16.90" height="56.80" fill="#fff" stroke="#000" stroke-width="0.9"/>
<line x1="76.00" y1="187.20" x2="76.00" y2="189.50" stroke="#000" stroke-width="0.9" stroke-linecap="butt"/>
<line x1="76.00" y1="187.30" x2="77.60" y2="187.30" stroke="#000" stroke-width="0.9" stroke-linecap="butt"/>
<rect x="67.80" y="189.50" width="16.60" height="78.90" fill="url(#chk)" stroke="#000" stroke-width="1.2"/>
<line x1="110.00" y1="197.80" x2="110.00" y2="201.50" stroke="#000" stroke-width="0.9" stroke-linecap="butt"/>
<line x1="110.00" y1="197.90" x2="111.60" y2="197.90" stroke="#000" stroke-width="0.9" stroke-linecap="butt"/>
<rect x="101.40" y="201.60" width="17.10" height="67.00" fill="url(#hsB)" stroke="#000" stroke-width="0.8"/>
<line x1="144.70" y1="191.70" x2="144.70" y2="197.00" stroke="#000" stroke-width="0.9" stroke-linecap="butt"/>
<line x1="144.70" y1="191.80" x2="146.30" y2="191.80" stroke="#000" stroke-width="0.9" stroke-linecap="butt"/>
<rect x="135.90" y="196.80" width="17.60" height="72.20" fill="#000"/>
<path d="M29.20 187.50V185.50Q29.20 185.10 29.60 185.10H70.40Q70.80 185.10 70.80 185.50V187.50" fill="none" stroke="#000" stroke-width="1.5"/>
<text x="33.70" y="182.42" font-size="6.2" font-weight="bold" text-anchor="start" fill="#000" textLength="20.4" lengthAdjust="spacingAndGlyphs">p=0.09</text>
<text x="27.70" y="277.35" font-size="6" font-weight="bold" text-anchor="start" fill="#000" textLength="25.9" lengthAdjust="spacingAndGlyphs" xml:space="preserve">Norm al</text>
<text x="69.20" y="277.35" font-size="6" font-weight="bold" text-anchor="start" fill="#000" textLength="9.0" lengthAdjust="spacingAndGlyphs">PV</text>
<text x="106.00" y="276.45" font-size="6" font-weight="bold" text-anchor="start" fill="#000" textLength="7.2" lengthAdjust="spacingAndGlyphs">ET</text>
<text x="142.00" y="276.45" font-size="6" font-weight="bold" text-anchor="start" fill="#000" textLength="9.8" lengthAdjust="spacingAndGlyphs">M F</text>
<text x="13.00" y="285.45" font-size="6" font-weight="bold" text-anchor="start" fill="#000" textLength="9.5" lengthAdjust="spacingAndGlyphs">n =</text>
<text x="38.40" y="285.38" font-size="5.8" font-weight="bold" text-anchor="middle" fill="#000">5</text>
<text x="74.70" y="285.38" font-size="5.8" font-weight="bold" text-anchor="middle" fill="#000">16</text>
<text x="110.60" y="285.38" font-size="5.8" font-weight="bold" text-anchor="middle" fill="#000">18</text>
<text x="144.30" y="285.38" font-size="5.8" font-weight="bold" text-anchor="middle" fill="#000">7</text>
<text x="152.00" y="285.38" font-size="5.8" font-weight="bold" text-anchor="start" fill="#000" textLength="12.4" lengthAdjust="spacingAndGlyphs">= 46</text>
</g>
<g id="panelC">
<text x="355.10" y="152.76" font-size="7.7" font-weight="bold" text-anchor="middle" fill="#000" textLength="158.8" lengthAdjust="spacingAndGlyphs">Differentiation potential of CD34+/CD38-</text>
<text x="354.80" y="163.16" font-size="7.7" font-weight="bold" text-anchor="middle" fill="#000" textLength="31.6" lengthAdjust="spacingAndGlyphs">3U-EPO</text>
<text transform="translate(234.71 230.30) rotate(-90)" font-size="5.9" font-weight="bold" text-anchor="middle" fill="#000" textLength="87.0" lengthAdjust="spacingAndGlyphs">Average Colony Number (%)</text>
<line x1="256.60" y1="182.20" x2="256.60" y2="269.20" stroke="#000" stroke-width="1.4" stroke-linecap="butt"/>
<line x1="256.00" y1="268.60" x2="392.00" y2="268.60" stroke="#000" stroke-width="1.4" stroke-linecap="butt"/>
<text x="254.80" y="186.08" font-size="5.8" font-weight="bold" text-anchor="end" fill="#000" textLength="16.2" lengthAdjust="spacingAndGlyphs">100%</text>
<text x="254.80" y="205.88" font-size="5.8" font-weight="bold" text-anchor="end" fill="#000" textLength="12.4" lengthAdjust="spacingAndGlyphs">75%</text>
<text x="254.80" y="228.48" font-size="5.8" font-weight="bold" text-anchor="end" fill="#000" textLength="12.4" lengthAdjust="spacingAndGlyphs">50%</text>
<text x="254.80" y="248.48" font-size="5.8" font-weight="bold" text-anchor="end" fill="#000" textLength="12.4" lengthAdjust="spacingAndGlyphs">25%</text>
<text x="254.80" y="269.48" font-size="5.8" font-weight="bold" text-anchor="end" fill="#000" textLength="8.6" lengthAdjust="spacingAndGlyphs">0%</text>
<rect x="265.80" y="182.60" width="15.00" height="38.70" fill="#000"/>
<path d="M266.30 220.70L267.70 216.70L269.10 220.70ZM269.10 220.70L270.50 216.70L271.90 220.70ZM271.90 220.70L273.30 216.70L274.70 220.70ZM274.70 220.70L276.10 216.70L277.50 220.70ZM277.50 220.70L278.90 216.70L280.30 220.70Z" fill="#fff"/>
<rect x="265.80" y="221.30" width="15.00" height="14.40" fill="url(#dot)"/>
<rect x="265.80" y="235.70" width="15.00" height="26.00" fill="url(#vs)"/>
<rect x="265.80" y="261.70" width="15.00" height="7.10" fill="#fbfbfb"/>
<line x1="265.80" y1="261.50" x2="280.80" y2="261.50" stroke="#000" stroke-width="1.0" stroke-linecap="butt"/>
<line x1="265.80" y1="263.50" x2="280.80" y2="263.50" stroke="#000" stroke-width="1.0" stroke-linecap="butt"/>
<line x1="265.80" y1="265.50" x2="280.80" y2="265.50" stroke="#000" stroke-width="1.0" stroke-linecap="butt"/>
<rect x="266.20" y="183" width="14.20" height="85.6" fill="none" stroke="#000" stroke-width="0.8"/>
<line x1="265.80" y1="221.30" x2="280.80" y2="221.30" stroke="#000" stroke-width="0.9" stroke-linecap="butt"/>
<line x1="265.80" y1="235.70" x2="280.80" y2="235.70" stroke="#000" stroke-width="0.9" stroke-linecap="butt"/>
<rect x="300.80" y="182.60" width="14.80" height="36.20" fill="#000"/>
<path d="M301.30 218.20L302.68 214.50L304.06 218.20ZM304.06 218.20L305.44 214.50L306.82 218.20ZM306.82 218.20L308.20 214.50L309.58 218.20ZM309.58 218.20L310.96 214.50L312.34 218.20ZM312.34 218.20L313.72 214.50L315.10 218.20Z" fill="#fff"/>
<rect x="300.80" y="218.80" width="14.80" height="8.70" fill="url(#dot)"/>
<rect x="300.80" y="227.50" width="14.80" height="30.40" fill="url(#vs)"/>
<rect x="300.80" y="257.90" width="14.80" height="10.90" fill="#fbfbfb"/>
<line x1="300.80" y1="257.50" x2="315.60" y2="257.50" stroke="#000" stroke-width="1.0" stroke-linecap="butt"/>
<line x1="300.80" y1="259.50" x2="315.60" y2="259.50" stroke="#000" stroke-width="1.0" stroke-linecap="butt"/>
<line x1="300.80" y1="261.50" x2="315.60" y2="261.50" stroke="#000" stroke-width="1.0" stroke-linecap="butt"/>
<line x1="300.80" y1="263.50" x2="315.60" y2="263.50" stroke="#000" stroke-width="1.0" stroke-linecap="butt"/>
<line x1="300.80" y1="265.50" x2="315.60" y2="265.50" stroke="#000" stroke-width="1.0" stroke-linecap="butt"/>
<rect x="301.20" y="183" width="14.00" height="85.6" fill="none" stroke="#000" stroke-width="0.8"/>
<line x1="300.80" y1="218.80" x2="315.60" y2="218.80" stroke="#000" stroke-width="0.9" stroke-linecap="butt"/>
<line x1="300.80" y1="227.50" x2="315.60" y2="227.50" stroke="#000" stroke-width="0.9" stroke-linecap="butt"/>
<rect x="335.90" y="182.60" width="15.10" height="39.00" fill="#000"/>
<path d="M336.40 221.00L337.81 216.50L339.22 221.00ZM339.22 221.00L340.63 216.50L342.04 221.00ZM342.04 221.00L343.45 216.50L344.86 221.00ZM344.86 221.00L346.27 216.50L347.68 221.00ZM347.68 221.00L349.09 216.50L350.50 221.00Z" fill="#fff"/>
<rect x="335.90" y="221.60" width="15.10" height="10.20" fill="url(#dot)"/>
<rect x="335.90" y="231.80" width="15.10" height="29.50" fill="url(#vs)"/>
<rect x="335.90" y="261.30" width="15.10" height="7.50" fill="#fbfbfb"/>
<line x1="335.90" y1="261.50" x2="351.00" y2="261.50" stroke="#000" stroke-width="1.0" stroke-linecap="butt"/>
<line x1="335.90" y1="263.50" x2="351.00" y2="263.50" stroke="#000" stroke-width="1.0" stroke-linecap="butt"/>
<line x1="335.90" y1="265.50" x2="351.00" y2="265.50" stroke="#000" stroke-width="1.0" stroke-linecap="butt"/>
<rect x="336.30" y="183" width="14.30" height="85.6" fill="none" stroke="#000" stroke-width="0.8"/>
<line x1="335.90" y1="221.60" x2="351.00" y2="221.60" stroke="#000" stroke-width="0.9" stroke-linecap="butt"/>
<line x1="335.90" y1="231.80" x2="351.00" y2="231.80" stroke="#000" stroke-width="0.9" stroke-linecap="butt"/>
<rect x="370.80" y="182.60" width="15.00" height="33.60" fill="#000"/>
<path d="M371.30 215.60L372.70 212.20L374.10 215.60ZM374.10 215.60L375.50 212.20L376.90 215.60ZM376.90 215.60L378.30 212.20L379.70 215.60ZM379.70 215.60L381.10 212.20L382.50 215.60ZM382.50 215.60L383.90 212.20L385.30 215.60Z" fill="#fff"/>
<rect x="370.80" y="216.20" width="15.00" height="12.80" fill="url(#dot)"/>
<rect x="370.80" y="229.00" width="15.00" height="31.70" fill="url(#vs)"/>
<rect x="370.80" y="260.70" width="15.00" height="8.10" fill="#fbfbfb"/>
<line x1="370.80" y1="260.50" x2="385.80" y2="260.50" stroke="#000" stroke-width="1.0" stroke-linecap="butt"/>
<line x1="370.80" y1="262.50" x2="385.80" y2="262.50" stroke="#000" stroke-width="1.0" stroke-linecap="butt"/>
<line x1="370.80" y1="264.50" x2="385.80" y2="264.50" stroke="#000" stroke-width="1.0" stroke-linecap="butt"/>
<line x1="370.80" y1="266.50" x2="385.80" y2="266.50" stroke="#000" stroke-width="1.0" stroke-linecap="butt"/>
<rect x="371.20" y="183" width="14.20" height="85.6" fill="none" stroke="#000" stroke-width="0.8"/>
<line x1="370.80" y1="216.20" x2="385.80" y2="216.20" stroke="#000" stroke-width="0.9" stroke-linecap="butt"/>
<line x1="370.80" y1="229.00" x2="385.80" y2="229.00" stroke="#000" stroke-width="0.9" stroke-linecap="butt"/>
<text x="263.80" y="277.05" font-size="6" font-weight="bold" text-anchor="start" fill="#000" textLength="25.6" lengthAdjust="spacingAndGlyphs" xml:space="preserve">Norm al</text>
<text x="304.40" y="276.75" font-size="6" font-weight="bold" text-anchor="start" fill="#000" textLength="8.6" lengthAdjust="spacingAndGlyphs">PV</text>
<text x="340.90" y="276.75" font-size="6" font-weight="bold" text-anchor="start" fill="#000" textLength="7.4" lengthAdjust="spacingAndGlyphs">ET</text>
<text x="376.50" y="276.55" font-size="6" font-weight="bold" text-anchor="start" fill="#000" textLength="9.9" lengthAdjust="spacingAndGlyphs">M F</text>
<text x="251.70" y="285.45" font-size="6" font-weight="bold" text-anchor="start" fill="#000" textLength="9.0" lengthAdjust="spacingAndGlyphs">n =</text>
<text x="281.90" y="285.38" font-size="5.8" font-weight="bold" text-anchor="middle" fill="#000">5</text>
<text x="311.30" y="285.38" font-size="5.8" font-weight="bold" text-anchor="middle" fill="#000">16</text>
<text x="343.30" y="285.38" font-size="5.8" font-weight="bold" text-anchor="middle" fill="#000">18</text>
<text x="381.30" y="285.38" font-size="5.8" font-weight="bold" text-anchor="middle" fill="#000">7</text>
<text x="389.20" y="285.45" font-size="6" font-weight="bold" text-anchor="start" fill="#000" textLength="11.8" lengthAdjust="spacingAndGlyphs">= 46</text>
<text x="386.50" y="199.18" font-size="6.1" font-weight="bold" text-anchor="start" fill="#000" textLength="19.2" lengthAdjust="spacingAndGlyphs">BFU-E</text>
<text x="386.50" y="216.18" font-size="6.1" font-weight="bold" text-anchor="start" fill="#000" textLength="20.8" lengthAdjust="spacingAndGlyphs">CFU-M</text>
<text x="386.50" y="224.68" font-size="6.1" font-weight="bold" text-anchor="start" fill="#000" textLength="20.4" lengthAdjust="spacingAndGlyphs">CFU-G</text>
<text x="386.50" y="243.08" font-size="6.1" font-weight="bold" text-anchor="start" fill="#000" textLength="25.6" lengthAdjust="spacingAndGlyphs">CFU-GM</text>
<text x="386.50" y="265.78" font-size="6.1" font-weight="bold" text-anchor="start" fill="#000" textLength="36.0" lengthAdjust="spacingAndGlyphs">CFU-GEMM</text>
</g>
<g id="flowD1">
<text x="59.00" y="323.76" font-size="6.6" font-weight="bold" text-anchor="middle" fill="#000" textLength="21.8" lengthAdjust="spacingAndGlyphs">Normal</text>
<path d="M8.2 340.8L14 359.8H9.9V404.8H6.4V359.8H2.4Z" fill="#000"/>
<path d="M22.7 414.2H70.8V410.1L90 415.7L70.8 421.3V417.1H22.7Z" fill="#000"/>
<text transform="translate(5.96 370.40) rotate(-90)" font-size="6.3" font-weight="bold" text-anchor="middle" fill="#000" textLength="15.4" lengthAdjust="spacingAndGlyphs">CD71</text>
<text x="41.10" y="422.59" font-size="6.4" font-weight="bold" text-anchor="middle" fill="#000" textLength="13.4" lengthAdjust="spacingAndGlyphs">GPA</text>
<line x1="23.40" y1="340.00" x2="23.40" y2="404.00" stroke="#000" stroke-width="1.1" stroke-linecap="butt"/>
<line x1="22.90" y1="403.50" x2="85.60" y2="403.50" stroke="#000" stroke-width="1.1" stroke-linecap="butt"/>
<text x="62.20" y="346.54" font-size="4.3" font-weight="normal" text-anchor="start" fill="#000" textLength="24.4" lengthAdjust="spacingAndGlyphs" style="stroke-width:.22px">CD71+GPA+</text>
<text x="69.00" y="349.83" font-size="2.6" font-weight="bold" text-anchor="start" fill="#000" textLength="6.0" lengthAdjust="spacingAndGlyphs">9.54</text>
<text x="16.60" y="354.27" font-size="3" font-weight="bold" text-anchor="start" fill="#000" textLength="3.2" lengthAdjust="spacingAndGlyphs">10</text>
<text x="19.90" y="352.32" font-size="2" font-weight="bold" text-anchor="start" fill="#000" textLength="1.2" lengthAdjust="spacingAndGlyphs">3</text>
<text x="16.60" y="369.27" font-size="3" font-weight="bold" text-anchor="start" fill="#000" textLength="3.2" lengthAdjust="spacingAndGlyphs">10</text>
<text x="19.90" y="367.32" font-size="2" font-weight="bold" text-anchor="start" fill="#000" textLength="1.2" lengthAdjust="spacingAndGlyphs">2</text>
<text x="16.60" y="385.97" font-size="3" font-weight="bold" text-anchor="start" fill="#000" textLength="3.2" lengthAdjust="spacingAndGlyphs">10</text>
<text x="19.90" y="384.02" font-size="2" font-weight="bold" text-anchor="start" fill="#000" textLength="1.2" lengthAdjust="spacingAndGlyphs">1</text>
<text x="16.60" y="402.37" font-size="3" font-weight="bold" text-anchor="start" fill="#000" textLength="3.2" lengthAdjust="spacingAndGlyphs">10</text>
<text x="19.90" y="400.42" font-size="2" font-weight="bold" text-anchor="start" fill="#000" textLength="1.2" lengthAdjust="spacingAndGlyphs">0</text>
<text x="21.80" y="409.87" font-size="3" font-weight="bold" text-anchor="start" fill="#000" textLength="3.2" lengthAdjust="spacingAndGlyphs">10</text>
<text x="25.10" y="408.02" font-size="2" font-weight="bold" text-anchor="start" fill="#000" textLength="1.2" lengthAdjust="spacingAndGlyphs">0</text>
<text x="41.80" y="409.87" font-size="3" font-weight="bold" text-anchor="start" fill="#000" textLength="3.2" lengthAdjust="spacingAndGlyphs">10</text>
<text x="45.10" y="408.02" font-size="2" font-weight="bold" text-anchor="start" fill="#000" textLength="1.2" lengthAdjust="spacingAndGlyphs">1</text>
<text x="61.80" y="409.87" font-size="3" font-weight="bold" text-anchor="start" fill="#000" textLength="3.2" lengthAdjust="spacingAndGlyphs">10</text>
<text x="65.10" y="408.02" font-size="2" font-weight="bold" text-anchor="start" fill="#000" textLength="1.2" lengthAdjust="spacingAndGlyphs">2</text>
<text x="81.80" y="409.87" font-size="3" font-weight="bold" text-anchor="start" fill="#000" textLength="3.2" lengthAdjust="spacingAndGlyphs">10</text>
<text x="85.10" y="408.02" font-size="2" font-weight="bold" text-anchor="start" fill="#000" textLength="1.2" lengthAdjust="spacingAndGlyphs">3</text>
<clipPath id="cD1"><path d="M27.5 388.0C27.6 385.9 28.8 382.3 30.0 379.7C31.2 377.1 32.4 374.4 34.9 372.3C37.4 370.2 40.9 368.7 44.8 367.3C48.6 365.9 54.5 365.0 58.0 364.0C61.5 363.0 63.5 362.5 65.5 361.5C67.5 360.5 68.3 358.7 69.7 357.9C71.1 357.1 72.6 356.4 73.8 356.6C75.0 356.8 76.5 357.9 77.1 359.0C77.6 360.1 77.6 361.9 77.1 363.2C76.5 364.4 75.3 365.7 73.8 366.5C72.3 367.3 69.9 367.4 68.0 368.1C66.1 368.8 63.6 369.4 62.2 370.6C60.8 371.9 60.2 373.8 59.7 375.6C59.2 377.4 59.6 379.5 58.9 381.4C58.2 383.3 57.1 385.4 55.6 387.2C54.1 389.0 52.1 390.7 49.8 392.1C47.4 393.5 44.1 395.1 41.5 395.5C38.9 395.9 36.2 395.2 34.1 394.6C32.0 394.0 30.2 393.2 29.1 392.1C28.0 391.0 27.4 390.1 27.5 388.0Z"/></clipPath>
<path d="M27.5 388.0C27.6 385.9 28.8 382.3 30.0 379.7C31.2 377.1 32.4 374.4 34.9 372.3C37.4 370.2 40.9 368.7 44.8 367.3C48.6 365.9 54.5 365.0 58.0 364.0C61.5 363.0 63.5 362.5 65.5 361.5C67.5 360.5 68.3 358.7 69.7 357.9C71.1 357.1 72.6 356.4 73.8 356.6C75.0 356.8 76.5 357.9 77.1 359.0C77.6 360.1 77.6 361.9 77.1 363.2C76.5 364.4 75.3 365.7 73.8 366.5C72.3 367.3 69.9 367.4 68.0 368.1C66.1 368.8 63.6 369.4 62.2 370.6C60.8 371.9 60.2 373.8 59.7 375.6C59.2 377.4 59.6 379.5 58.9 381.4C58.2 383.3 57.1 385.4 55.6 387.2C54.1 389.0 52.1 390.7 49.8 392.1C47.4 393.5 44.1 395.1 41.5 395.5C38.9 395.9 36.2 395.2 34.1 394.6C32.0 394.0 30.2 393.2 29.1 392.1C28.0 391.0 27.4 390.1 27.5 388.0Z" fill="#f0f0f0"/>
<g clip-path="url(#cD1)">
<ellipse cx="44" cy="382" rx="7" ry="12" fill="#8a8a8a" filter="url(#b3)" transform="rotate(28 44 382)"/>
</g>
<path d="M27.5 388.0C27.6 385.9 28.8 382.3 30.0 379.7C31.2 377.1 32.4 374.4 34.9 372.3C37.4 370.2 40.9 368.7 44.8 367.3C48.6 365.9 54.5 365.0 58.0 364.0C61.5 363.0 63.5 362.5 65.5 361.5C67.5 360.5 68.3 358.7 69.7 357.9C71.1 357.1 72.6 356.4 73.8 356.6C75.0 356.8 76.5 357.9 77.1 359.0C77.6 360.1 77.6 361.9 77.1 363.2C76.5 364.4 75.3 365.7 73.8 366.5C72.3 367.3 69.9 367.4 68.0 368.1C66.1 368.8 63.6 369.4 62.2 370.6C60.8 371.9 60.2 373.8 59.7 375.6C59.2 377.4 59.6 379.5 58.9 381.4C58.2 383.3 57.1 385.4 55.6 387.2C54.1 389.0 52.1 390.7 49.8 392.1C47.4 393.5 44.1 395.1 41.5 395.5C38.9 395.9 36.2 395.2 34.1 394.6C32.0 394.0 30.2 393.2 29.1 392.1C28.0 391.0 27.4 390.1 27.5 388.0Z" fill="none" stroke="#000" stroke-width="1.7" stroke-linejoin="round"/>
<path d="M30.5 386.8C30.6 385.2 31.5 382.2 32.6 380.0C33.6 377.9 34.6 375.7 36.6 374.0C38.6 372.3 42.1 370.8 44.7 369.9C47.3 368.9 50.1 368.4 52.2 368.3C54.4 368.2 56.8 367.8 57.6 369.2C58.3 370.6 57.1 374.6 56.9 376.7C56.7 378.7 56.8 379.9 56.3 381.4C55.7 383.0 54.8 384.7 53.5 386.2C52.3 387.7 50.7 389.1 48.8 390.2C46.9 391.3 44.1 392.7 42.0 393.0C39.8 393.3 37.6 392.7 35.9 392.3C34.2 391.8 32.7 391.1 31.8 390.2C30.9 389.3 30.4 388.5 30.5 386.8Z" fill="none" stroke="#000" stroke-width="1.1"/>
<path d="M33.2 385.8C33.3 384.5 34.0 382.1 34.8 380.3C35.6 378.6 36.4 376.8 38.1 375.5C39.7 374.1 42.5 372.9 44.6 372.2C46.7 371.4 48.9 371.0 50.7 370.9C52.4 370.8 54.3 370.5 55.0 371.6C55.6 372.8 54.6 376.0 54.4 377.6C54.3 379.3 54.4 380.2 53.9 381.5C53.5 382.7 52.7 384.1 51.7 385.3C50.7 386.5 49.4 387.6 47.9 388.5C46.3 389.4 44.1 390.5 42.4 390.8C40.7 391.0 38.9 390.6 37.5 390.2C36.2 389.8 35.0 389.3 34.2 388.5C33.5 387.8 33.1 387.2 33.2 385.8Z" fill="none" stroke="#000" stroke-width="1.0"/>
<path d="M35.9 384.8C35.9 383.8 36.5 382.0 37.1 380.6C37.7 379.3 38.3 378.0 39.5 377.0C40.8 375.9 42.9 375.0 44.5 374.5C46.1 373.9 47.8 373.6 49.1 373.5C50.4 373.4 51.9 373.2 52.4 374.1C52.8 374.9 52.1 377.4 52.0 378.6C51.8 379.8 51.9 380.5 51.5 381.5C51.2 382.5 50.7 383.5 49.9 384.4C49.1 385.3 48.2 386.2 47.0 386.9C45.8 387.5 44.2 388.3 42.9 388.6C41.5 388.8 40.2 388.4 39.2 388.1C38.1 387.8 37.2 387.4 36.7 386.9C36.1 386.3 35.8 385.8 35.9 384.8Z" fill="none" stroke="#000" stroke-width="1.0"/>
<path d="M38.4 383.8C38.4 383.1 38.8 381.9 39.2 380.9C39.7 380.0 40.1 379.1 40.9 378.3C41.8 377.6 43.3 377.0 44.4 376.6C45.5 376.2 46.7 376.0 47.6 375.9C48.5 375.9 49.6 375.7 49.9 376.3C50.2 376.9 49.7 378.6 49.6 379.5C49.5 380.4 49.6 380.9 49.3 381.5C49.1 382.2 48.7 382.9 48.2 383.6C47.7 384.2 47.0 384.8 46.2 385.3C45.3 385.8 44.2 386.3 43.3 386.5C42.3 386.6 41.4 386.3 40.7 386.2C39.9 386.0 39.3 385.7 38.9 385.3C38.5 384.9 38.3 384.6 38.4 383.8Z" fill="none" stroke="#000" stroke-width="0.9"/>
<ellipse cx="43.4" cy="384.4" rx="1.7" ry="2.8" fill="#fff" stroke="#000" stroke-width="0.9" transform="rotate(12 43.4 384.4)"/>
<ellipse cx="50" cy="373.6" rx="3" ry="1.1" fill="#000" transform="rotate(-22 50 373.6)"/>
<ellipse cx="73.3" cy="361.4" rx="2.6" ry="1.9" fill="#c4c4c4" stroke="#444" stroke-width="0.6" transform="rotate(-45 73.3 361.4)"/>
<rect x="61.2" y="351.7" width="23.4" height="25.5" fill="none" stroke="#000" stroke-width="0.8"/>
</g>
<g id="flowD2">
<text x="144.00" y="324.11" font-size="7" font-weight="bold" text-anchor="middle" fill="#000" textLength="34.0" lengthAdjust="spacingAndGlyphs">PV-V617F</text>
<line x1="111.40" y1="345.40" x2="111.40" y2="403.30" stroke="#000" stroke-width="1.1" stroke-linecap="butt"/>
<line x1="110.90" y1="402.80" x2="176.70" y2="402.80" stroke="#000" stroke-width="1.1" stroke-linecap="butt"/>
<text x="150.60" y="335.80" font-size="2.8" font-weight="bold" text-anchor="start" fill="#000" textLength="7.6" lengthAdjust="spacingAndGlyphs">37.99</text>
<text x="160.20" y="339.24" font-size="4.3" font-weight="normal" text-anchor="start" fill="#000" textLength="25.0" lengthAdjust="spacingAndGlyphs" style="stroke-width:.22px">CD71+GPA+</text>
<text x="103.50" y="349.20" font-size="2.8" font-weight="bold" text-anchor="start" fill="#000" textLength="3.2" lengthAdjust="spacingAndGlyphs">10</text>
<text x="106.90" y="347.32" font-size="2" font-weight="bold" text-anchor="start" fill="#000" textLength="1.2" lengthAdjust="spacingAndGlyphs">3</text>
<text x="103.50" y="368.60" font-size="2.8" font-weight="bold" text-anchor="start" fill="#000" textLength="3.2" lengthAdjust="spacingAndGlyphs">10</text>
<text x="106.90" y="366.72" font-size="2" font-weight="bold" text-anchor="start" fill="#000" textLength="1.2" lengthAdjust="spacingAndGlyphs">2</text>
<text x="103.50" y="387.60" font-size="2.8" font-weight="bold" text-anchor="start" fill="#000" textLength="3.2" lengthAdjust="spacingAndGlyphs">10</text>
<text x="106.90" y="385.72" font-size="2" font-weight="bold" text-anchor="start" fill="#000" textLength="1.2" lengthAdjust="spacingAndGlyphs">1</text>
<text x="103.50" y="404.00" font-size="2.8" font-weight="bold" text-anchor="start" fill="#000" textLength="3.2" lengthAdjust="spacingAndGlyphs">10</text>
<text x="106.90" y="402.12" font-size="2" font-weight="bold" text-anchor="start" fill="#000" textLength="1.2" lengthAdjust="spacingAndGlyphs">0</text>
<text x="110.40" y="410.20" font-size="2.8" font-weight="bold" text-anchor="start" fill="#000" textLength="3.2" lengthAdjust="spacingAndGlyphs">10</text>
<text x="113.80" y="408.32" font-size="2" font-weight="bold" text-anchor="start" fill="#000" textLength="1.2" lengthAdjust="spacingAndGlyphs">0</text>
<text x="130.30" y="410.20" font-size="2.8" font-weight="bold" text-anchor="start" fill="#000" textLength="3.2" lengthAdjust="spacingAndGlyphs">10</text>
<text x="133.70" y="408.32" font-size="2" font-weight="bold" text-anchor="start" fill="#000" textLength="1.2" lengthAdjust="spacingAndGlyphs">1</text>
<text x="152.10" y="410.20" font-size="2.8" font-weight="bold" text-anchor="start" fill="#000" textLength="3.2" lengthAdjust="spacingAndGlyphs">10</text>
<text x="155.50" y="408.32" font-size="2" font-weight="bold" text-anchor="start" fill="#000" textLength="1.2" lengthAdjust="spacingAndGlyphs">2</text>
<text x="172.90" y="410.20" font-size="2.8" font-weight="bold" text-anchor="start" fill="#000" textLength="3.2" lengthAdjust="spacingAndGlyphs">10</text>
<text x="176.30" y="408.32" font-size="2" font-weight="bold" text-anchor="start" fill="#000" textLength="1.2" lengthAdjust="spacingAndGlyphs">3</text>
<clipPath id="cD2"><path d="M111.8 377.0C112.6 372.8 115.3 376.3 117.2 374.6C119.1 372.9 121.9 368.8 123.4 367.0C125.0 365.2 124.7 364.8 126.5 363.8C128.3 362.8 131.8 361.8 134.2 360.8C136.6 359.8 139.8 359.4 141.0 357.7C142.2 356.0 140.8 352.6 141.5 350.8C142.2 349.0 143.4 347.8 145.0 347.0C146.6 346.2 149.5 345.6 151.0 346.2C152.5 346.8 152.6 349.4 154.2 350.8C155.8 352.2 158.5 353.1 160.3 354.6C162.1 356.1 164.1 358.3 165.0 360.0C165.9 361.7 166.1 362.9 165.7 364.6C165.3 366.3 164.3 368.6 162.6 370.0C160.9 371.4 158.1 372.1 155.7 373.0C153.3 373.9 149.7 374.0 148.0 375.4C146.3 376.8 146.3 379.4 145.7 381.5C145.1 383.6 145.3 385.4 144.2 387.7C143.0 390.0 141.0 393.4 138.8 395.4C136.6 397.3 134.1 398.6 131.0 399.4C127.9 400.2 123.4 400.4 120.3 400.4C117.2 400.4 114.0 403.5 112.6 399.6C111.2 395.7 111.0 381.2 111.8 377.0Z"/></clipPath>
<path d="M111.8 377.0C112.6 372.8 115.3 376.3 117.2 374.6C119.1 372.9 121.9 368.8 123.4 367.0C125.0 365.2 124.7 364.8 126.5 363.8C128.3 362.8 131.8 361.8 134.2 360.8C136.6 359.8 139.8 359.4 141.0 357.7C142.2 356.0 140.8 352.6 141.5 350.8C142.2 349.0 143.4 347.8 145.0 347.0C146.6 346.2 149.5 345.6 151.0 346.2C152.5 346.8 152.6 349.4 154.2 350.8C155.8 352.2 158.5 353.1 160.3 354.6C162.1 356.1 164.1 358.3 165.0 360.0C165.9 361.7 166.1 362.9 165.7 364.6C165.3 366.3 164.3 368.6 162.6 370.0C160.9 371.4 158.1 372.1 155.7 373.0C153.3 373.9 149.7 374.0 148.0 375.4C146.3 376.8 146.3 379.4 145.7 381.5C145.1 383.6 145.3 385.4 144.2 387.7C143.0 390.0 141.0 393.4 138.8 395.4C136.6 397.3 134.1 398.6 131.0 399.4C127.9 400.2 123.4 400.4 120.3 400.4C117.2 400.4 114.0 403.5 112.6 399.6C111.2 395.7 111.0 381.2 111.8 377.0Z" fill="#c2c2c2"/>
<g clip-path="url(#cD2)">
<path d="M115.5 377.0C116.2 373.4 118.5 376.4 120.2 374.9C121.8 373.5 124.2 369.9 125.5 368.4C126.8 366.9 126.6 366.5 128.2 365.6C129.7 364.8 132.7 363.9 134.8 363.1C136.9 362.2 139.6 361.8 140.7 360.4C141.7 359.0 140.5 356.0 141.1 354.5C141.7 352.9 142.7 351.9 144.1 351.2C145.5 350.5 147.9 350.0 149.2 350.5C150.6 351.1 150.7 353.3 152.0 354.5C153.3 355.7 155.7 356.4 157.2 357.7C158.8 359.1 160.5 360.9 161.3 362.4C162.1 363.8 162.2 364.9 161.9 366.3C161.5 367.8 160.7 369.8 159.2 371.0C157.8 372.2 155.4 372.8 153.3 373.6C151.2 374.3 148.1 374.4 146.7 375.6C145.2 376.8 145.2 379.1 144.7 380.9C144.1 382.6 144.4 384.2 143.4 386.2C142.4 388.2 140.7 391.1 138.8 392.8C136.9 394.5 134.7 395.5 132.1 396.3C129.4 397.0 125.5 397.1 122.8 397.1C120.2 397.2 117.4 399.8 116.2 396.4C115.0 393.1 114.9 380.6 115.5 377.0Z" fill="#fbfbfb" filter="url(#b2)"/>
<ellipse cx="127.5" cy="387.6" rx="9" ry="4.6" fill="#6a6a6a" filter="url(#b2)" transform="rotate(-25 127.5 387.6)"/>
<ellipse cx="149.4" cy="363.4" rx="8.5" ry="3.8" fill="#6a6a6a" filter="url(#b2)" transform="rotate(-27 149.4 363.4)"/>
<path d="M142.4 351L145 346L151.6 345.6L155.4 351.6L149.4 350Z" fill="#000" filter="url(#b1)"/>
<path d="M111.8 376L117.2 373.6L123.4 366L127 363L134 360L141 357L133 363.4L125 368.6L117.6 376.4L112 379Z" fill="#000" filter="url(#b1)"/>
</g>
<path d="M111.8 377.0C112.6 372.8 115.3 376.3 117.2 374.6C119.1 372.9 121.9 368.8 123.4 367.0C125.0 365.2 124.7 364.8 126.5 363.8C128.3 362.8 131.8 361.8 134.2 360.8C136.6 359.8 139.8 359.4 141.0 357.7C142.2 356.0 140.8 352.6 141.5 350.8C142.2 349.0 143.4 347.8 145.0 347.0C146.6 346.2 149.5 345.6 151.0 346.2C152.5 346.8 152.6 349.4 154.2 350.8C155.8 352.2 158.5 353.1 160.3 354.6C162.1 356.1 164.1 358.3 165.0 360.0C165.9 361.7 166.1 362.9 165.7 364.6C165.3 366.3 164.3 368.6 162.6 370.0C160.9 371.4 158.1 372.1 155.7 373.0C153.3 373.9 149.7 374.0 148.0 375.4C146.3 376.8 146.3 379.4 145.7 381.5C145.1 383.6 145.3 385.4 144.2 387.7C143.0 390.0 141.0 393.4 138.8 395.4C136.6 397.3 134.1 398.6 131.0 399.4C127.9 400.2 123.4 400.4 120.3 400.4C117.2 400.4 114.0 403.5 112.6 399.6C111.2 395.7 111.0 381.2 111.8 377.0Z" fill="none" stroke="#000" stroke-width="1.8" stroke-linejoin="round"/>
<path d="M114.5 377.0C115.2 373.2 117.6 376.3 119.3 374.8C121.1 373.3 123.5 369.6 124.9 368.0C126.3 366.4 126.1 366.1 127.7 365.1C129.3 364.2 132.5 363.3 134.6 362.4C136.8 361.5 139.7 361.1 140.8 359.6C141.8 358.1 140.6 355.0 141.2 353.4C141.8 351.8 142.9 350.7 144.3 350.0C145.8 349.3 148.4 348.7 149.8 349.3C151.1 349.8 151.2 352.2 152.6 353.4C154.0 354.7 156.5 355.5 158.1 356.8C159.7 358.2 161.5 360.2 162.3 361.7C163.2 363.2 163.3 364.3 163.0 365.8C162.6 367.3 161.7 369.4 160.2 370.7C158.7 372.0 156.2 372.6 154.0 373.4C151.8 374.2 148.6 374.3 147.1 375.6C145.6 376.8 145.5 379.2 145.0 381.1C144.4 382.9 144.7 384.5 143.6 386.6C142.6 388.7 140.8 391.8 138.8 393.6C136.8 395.3 134.5 396.4 131.8 397.2C129.0 397.9 124.9 398.0 122.1 398.1C119.4 398.1 116.5 400.9 115.2 397.3C113.9 393.8 113.8 380.8 114.5 377.0Z" fill="none" stroke="#222" stroke-width="0.8" clip-path="url(#cD2)"/>
<path d="M111.6 348.5Q113.8 362 113.4 372Q113 378 111.8 382Z" fill="#666" stroke="#000" stroke-width="0.6"/>
<path d="M114.8 391.9C114.7 390.1 116.1 387.2 118.0 385.6C119.8 384.0 123.5 383.7 125.8 382.4C128.2 381.2 130.0 378.8 132.1 378.2C134.2 377.6 137.3 377.7 138.6 378.6C139.8 379.6 140.3 382.0 139.7 384.0C139.1 386.0 136.9 388.8 134.8 390.7C132.6 392.7 129.6 394.7 126.9 395.7C124.2 396.6 120.7 397.0 118.6 396.3C116.6 395.7 114.9 393.6 114.8 391.9Z" fill="none" stroke="#000" stroke-width="1.2"/>
<path d="M118.3 390.7C118.2 389.4 119.2 387.3 120.5 386.1C121.9 385.0 124.6 384.7 126.3 383.8C128.0 382.9 129.3 381.2 130.9 380.7C132.4 380.2 134.7 380.3 135.6 381.0C136.6 381.8 136.9 383.5 136.5 385.0C136.0 386.5 134.4 388.5 132.8 389.9C131.3 391.3 129.1 392.8 127.1 393.5C125.1 394.2 122.5 394.5 121.0 394.0C119.6 393.5 118.3 392.0 118.3 390.7Z" fill="none" stroke="#000" stroke-width="1.1"/>
<path d="M121.4 389.7C121.4 388.8 122.1 387.4 123.0 386.6C123.8 385.9 125.6 385.7 126.7 385.1C127.9 384.5 128.7 383.4 129.8 383.1C130.8 382.8 132.3 382.8 132.9 383.3C133.5 383.7 133.7 384.9 133.4 385.9C133.1 386.8 132.1 388.2 131.1 389.1C130.0 390.0 128.6 391.0 127.3 391.5C126.0 391.9 124.3 392.1 123.3 391.8C122.3 391.5 121.5 390.5 121.4 389.7Z" fill="none" stroke="#000" stroke-width="1.0"/>
<path d="M121.2 390.4Q127 389.8 130.4 387.6Q132.6 385.6 133.2 383.2" fill="none" stroke="#000" stroke-width="1.7" stroke-linecap="round"/>
<path d="M138.8 366.8C139.1 365.1 140.9 363.0 142.9 361.4C144.9 359.9 148.1 358.7 150.7 357.8C153.3 356.9 156.6 355.7 158.3 356.0C159.9 356.4 161.1 358.0 160.8 359.7C160.6 361.4 158.9 364.4 157.0 366.2C155.0 368.0 151.6 369.8 149.0 370.7C146.4 371.7 143.1 372.7 141.4 372.0C139.7 371.4 138.6 368.6 138.8 366.8Z" fill="none" stroke="#000" stroke-width="1.2"/>
<path d="M141.6 366.0C141.7 364.7 143.1 363.1 144.6 362.0C146.1 360.9 148.5 359.9 150.4 359.3C152.3 358.6 154.7 357.8 156.0 358.0C157.2 358.2 158.0 359.5 157.9 360.7C157.7 362.0 156.5 364.2 155.0 365.5C153.5 366.9 151.0 368.2 149.1 368.9C147.2 369.6 144.7 370.3 143.5 369.8C142.2 369.4 141.4 367.3 141.6 366.0Z" fill="none" stroke="#000" stroke-width="1.1"/>
<path d="M144.1 365.2C144.2 364.3 145.2 363.3 146.2 362.5C147.2 361.8 148.8 361.1 150.0 360.7C151.3 360.2 153.0 359.7 153.8 359.8C154.7 360.0 155.2 360.8 155.1 361.7C155.0 362.5 154.2 364.0 153.2 364.9C152.2 365.8 150.5 366.7 149.2 367.2C147.9 367.6 146.2 368.1 145.4 367.8C144.6 367.5 144.0 366.1 144.1 365.2Z" fill="none" stroke="#000" stroke-width="1.0"/>
<path d="M144.4 365.6Q149 363.6 153.6 361.4" fill="none" stroke="#000" stroke-width="1.8" stroke-linecap="round"/>
<rect x="141.2" y="343.1" width="28.8" height="32.8" fill="none" stroke="#000" stroke-width="0.8"/>
</g>
<g id="barD1">
<text x="297.00" y="324.72" font-size="7.6" font-weight="bold" text-anchor="middle" fill="#000" textLength="70.0" lengthAdjust="spacingAndGlyphs">CD34- CD71+GPA+</text>
<text transform="translate(216.80 366.80) rotate(-90)" font-size="5.3" font-weight="bold" text-anchor="middle" fill="#000" textLength="65.6" lengthAdjust="spacingAndGlyphs">Number of cells / 10<tspan font-size="3.4" dy="-2">6</tspan><tspan dy="2"> MNCs</tspan></text>
<line x1="247.40" y1="335.00" x2="247.40" y2="404.80" stroke="#000" stroke-width="1.9" stroke-linecap="butt"/>
<line x1="246.50" y1="403.90" x2="362.00" y2="403.90" stroke="#000" stroke-width="1.9" stroke-linecap="butt"/>
<text x="243.60" y="337.83" font-size="5.4" font-weight="bold" text-anchor="end" fill="#000" textLength="20.3" lengthAdjust="spacingAndGlyphs">200000</text>
<line x1="244.30" y1="335.90" x2="247.40" y2="335.90" stroke="#000" stroke-width="1.5" stroke-linecap="butt"/>
<text x="243.60" y="354.73" font-size="5.4" font-weight="bold" text-anchor="end" fill="#000" textLength="20.3" lengthAdjust="spacingAndGlyphs">150000</text>
<line x1="244.30" y1="352.80" x2="247.40" y2="352.80" stroke="#000" stroke-width="1.5" stroke-linecap="butt"/>
<text x="243.60" y="371.93" font-size="5.4" font-weight="bold" text-anchor="end" fill="#000" textLength="20.3" lengthAdjust="spacingAndGlyphs">100000</text>
<line x1="244.30" y1="370.00" x2="247.40" y2="370.00" stroke="#000" stroke-width="1.5" stroke-linecap="butt"/>
<text x="243.60" y="389.33" font-size="5.4" font-weight="bold" text-anchor="end" fill="#000" textLength="16.9" lengthAdjust="spacingAndGlyphs">50000</text>
<line x1="244.30" y1="387.40" x2="247.40" y2="387.40" stroke="#000" stroke-width="1.5" stroke-linecap="butt"/>
<text x="243.50" y="404.93" font-size="5.4" font-weight="bold" text-anchor="end" fill="#000">0</text>
<line x1="262.00" y1="404.00" x2="262.00" y2="406.60" stroke="#000" stroke-width="1.5" stroke-linecap="butt"/>
<line x1="291.40" y1="404.00" x2="291.40" y2="406.60" stroke="#000" stroke-width="1.5" stroke-linecap="butt"/>
<line x1="320.30" y1="404.00" x2="320.30" y2="406.60" stroke="#000" stroke-width="1.5" stroke-linecap="butt"/>
<line x1="349.00" y1="404.00" x2="349.00" y2="406.60" stroke="#000" stroke-width="1.5" stroke-linecap="butt"/>
<line x1="262.00" y1="390.60" x2="262.00" y2="392.00" stroke="#000" stroke-width="2.5" stroke-linecap="butt"/>
<line x1="256.00" y1="390.60" x2="268.00" y2="390.60" stroke="#000" stroke-width="2.5" stroke-linecap="butt"/>
<rect x="252.50" y="392.30" width="18.80" height="10.80" fill="#fff" stroke="#000" stroke-width="2.6"/>
<line x1="291.40" y1="345.60" x2="291.40" y2="355.00" stroke="#000" stroke-width="2.5" stroke-linecap="butt"/>
<line x1="285.00" y1="345.60" x2="297.80" y2="345.60" stroke="#000" stroke-width="2.5" stroke-linecap="butt"/>
<rect x="281.65" y="354.95" width="19.40" height="48.50" fill="url(#chkA)" stroke="#000" stroke-width="1.9"/>
<line x1="320.30" y1="379.50" x2="320.30" y2="383.00" stroke="#000" stroke-width="2.5" stroke-linecap="butt"/>
<line x1="314.30" y1="379.50" x2="326.30" y2="379.50" stroke="#000" stroke-width="2.5" stroke-linecap="butt"/>
<rect x="310.55" y="383.55" width="19.50" height="19.90" fill="#484848" stroke="#000" stroke-width="1.9"/>
<rect x="310.60" y="383.60" width="19.40" height="1.80" fill="#8c8c8c"/>
<line x1="349.70" y1="349.60" x2="349.70" y2="363.00" stroke="#000" stroke-width="2.5" stroke-linecap="butt"/>
<line x1="343.45" y1="349.60" x2="355.95" y2="349.60" stroke="#000" stroke-width="2.5" stroke-linecap="butt"/>
<rect x="338.20" y="362.00" width="21.40" height="42.40" fill="#000"/>
<path d="M258.80 338.20V336.40Q258.80 335.20 260.00 335.20H345.90Q347.10 335.20 347.10 336.40V338.20" fill="none" stroke="#000" stroke-width="1.8"/>
<text x="261.20" y="333.26" font-size="5.2" font-weight="bold" text-anchor="start" fill="#000" textLength="21.4" lengthAdjust="spacingAndGlyphs">p=0.05 *</text>
<path d="M258.80 347.50V345.70Q258.80 344.50 260.00 344.50H282.00Q283.20 344.50 283.20 345.70V347.50" fill="none" stroke="#000" stroke-width="1.8"/>
<text x="259.50" y="342.06" font-size="5.2" font-weight="bold" text-anchor="start" fill="#000" textLength="21.4" lengthAdjust="spacingAndGlyphs">p=0.02 *</text>
<text x="259.30" y="412.79" font-size="5" font-weight="bold" text-anchor="middle" fill="#000" textLength="17.3" lengthAdjust="spacingAndGlyphs">Normal</text>
<text x="289.40" y="412.79" font-size="5" font-weight="bold" text-anchor="middle" fill="#000" textLength="6.4" lengthAdjust="spacingAndGlyphs">PV</text>
<text x="318.70" y="412.79" font-size="5" font-weight="bold" text-anchor="middle" fill="#000" textLength="6.0" lengthAdjust="spacingAndGlyphs">ET</text>
<text x="350.10" y="412.79" font-size="5" font-weight="bold" text-anchor="middle" fill="#000" textLength="6.8" lengthAdjust="spacingAndGlyphs">MF</text>
<text x="240.00" y="420.09" font-size="5" font-weight="bold" text-anchor="start" fill="#000" textLength="6.7" lengthAdjust="spacingAndGlyphs">n =</text>
<text x="261.00" y="420.09" font-size="5" font-weight="bold" text-anchor="middle" fill="#000">5</text>
<text x="290.00" y="420.09" font-size="5" font-weight="bold" text-anchor="middle" fill="#000">14</text>
<text x="320.00" y="420.09" font-size="5" font-weight="bold" text-anchor="middle" fill="#000">6</text>
<text x="350.00" y="420.09" font-size="5" font-weight="bold" text-anchor="middle" fill="#000">5</text>
<text x="361.00" y="420.09" font-size="5" font-weight="bold" text-anchor="start" fill="#000" textLength="10.0" lengthAdjust="spacingAndGlyphs">= 30</text>
</g>
<g id="barD2">
<text x="444.40" y="324.72" font-size="7.6" font-weight="bold" text-anchor="middle" fill="#000" textLength="37.0" lengthAdjust="spacingAndGlyphs">CD41+ PI+</text>
<text transform="translate(371.80 364.10) rotate(-90)" font-size="5.3" font-weight="bold" text-anchor="middle" fill="#000" textLength="65.4" lengthAdjust="spacingAndGlyphs">Number of cells / 10<tspan font-size="3.4" dy="-2">6</tspan><tspan dy="2"> MNCs</tspan></text>
<line x1="399.50" y1="331.20" x2="399.50" y2="403.80" stroke="#000" stroke-width="1.9" stroke-linecap="butt"/>
<line x1="398.40" y1="402.90" x2="515.20" y2="402.90" stroke="#000" stroke-width="1.9" stroke-linecap="butt"/>
<text x="394.60" y="335.43" font-size="5.4" font-weight="bold" text-anchor="end" fill="#000" textLength="20.3" lengthAdjust="spacingAndGlyphs">200000</text>
<line x1="395.40" y1="332.80" x2="399.30" y2="332.80" stroke="#000" stroke-width="1.5" stroke-linecap="butt"/>
<text x="394.60" y="352.13" font-size="5.4" font-weight="bold" text-anchor="end" fill="#000" textLength="20.3" lengthAdjust="spacingAndGlyphs">150000</text>
<line x1="395.40" y1="349.50" x2="399.30" y2="349.50" stroke="#000" stroke-width="1.5" stroke-linecap="butt"/>
<text x="394.60" y="369.33" font-size="5.4" font-weight="bold" text-anchor="end" fill="#000" textLength="20.3" lengthAdjust="spacingAndGlyphs">100000</text>
<line x1="395.40" y1="366.70" x2="399.30" y2="366.70" stroke="#000" stroke-width="1.5" stroke-linecap="butt"/>
<text x="394.60" y="386.73" font-size="5.4" font-weight="bold" text-anchor="end" fill="#000" textLength="17.0" lengthAdjust="spacingAndGlyphs">50000</text>
<line x1="395.40" y1="384.10" x2="399.30" y2="384.10" stroke="#000" stroke-width="1.5" stroke-linecap="butt"/>
<text x="394.60" y="403.73" font-size="5.4" font-weight="bold" text-anchor="end" fill="#000">0</text>
<line x1="414.00" y1="403.00" x2="414.00" y2="405.60" stroke="#000" stroke-width="1.5" stroke-linecap="butt"/>
<line x1="442.70" y1="403.00" x2="442.70" y2="405.60" stroke="#000" stroke-width="1.5" stroke-linecap="butt"/>
<line x1="471.00" y1="403.00" x2="471.00" y2="405.60" stroke="#000" stroke-width="1.5" stroke-linecap="butt"/>
<line x1="500.20" y1="403.00" x2="500.20" y2="405.60" stroke="#000" stroke-width="1.5" stroke-linecap="butt"/>
<line x1="413.90" y1="383.60" x2="413.90" y2="386.00" stroke="#000" stroke-width="2.5" stroke-linecap="butt"/>
<line x1="408.20" y1="383.60" x2="419.60" y2="383.60" stroke="#000" stroke-width="2.5" stroke-linecap="butt"/>
<rect x="404.35" y="386.25" width="19.50" height="15.90" fill="#fff" stroke="#000" stroke-width="2.5"/>
<line x1="442.80" y1="354.40" x2="442.80" y2="364.00" stroke="#000" stroke-width="2.5" stroke-linecap="butt"/>
<line x1="437.00" y1="354.40" x2="448.60" y2="354.40" stroke="#000" stroke-width="2.5" stroke-linecap="butt"/>
<rect x="432.95" y="363.65" width="19.50" height="38.80" fill="url(#chkA)" stroke="#000" stroke-width="1.9"/>
<line x1="471.30" y1="349.60" x2="471.30" y2="362.00" stroke="#000" stroke-width="2.5" stroke-linecap="butt"/>
<line x1="465.30" y1="349.60" x2="477.30" y2="349.60" stroke="#000" stroke-width="2.5" stroke-linecap="butt"/>
<rect x="461.45" y="361.05" width="19.80" height="41.30" fill="url(#hsA)" stroke="#000" stroke-width="2.1"/>
<line x1="500.20" y1="380.90" x2="500.20" y2="386.00" stroke="#000" stroke-width="2.5" stroke-linecap="butt"/>
<line x1="494.35" y1="380.90" x2="506.05" y2="380.90" stroke="#000" stroke-width="2.5" stroke-linecap="butt"/>
<rect x="489.50" y="385.70" width="21.50" height="17.70" fill="#000"/>
<path d="M412.00 346.30V344.50Q412.00 343.30 413.20 343.30H465.60Q466.80 343.30 466.80 344.50V346.30" fill="none" stroke="#000" stroke-width="1.8"/>
<text x="412.60" y="341.16" font-size="5.2" font-weight="bold" text-anchor="start" fill="#000" textLength="16.8" lengthAdjust="spacingAndGlyphs">p=0.08</text>
<path d="M412.00 355.80V354.20Q412.00 353.00 413.20 353.00H434.20Q435.40 353.00 435.40 354.20V355.80" fill="none" stroke="#000" stroke-width="1.8"/>
<text x="412.60" y="350.26" font-size="5.2" font-weight="bold" text-anchor="start" fill="#000" textLength="20.0" lengthAdjust="spacingAndGlyphs">p=0.04*</text>
<text x="415.00" y="411.39" font-size="5" font-weight="bold" text-anchor="middle" fill="#000" textLength="17.8" lengthAdjust="spacingAndGlyphs">Normal</text>
<text x="441.80" y="411.39" font-size="5" font-weight="bold" text-anchor="middle" fill="#000" textLength="6.2" lengthAdjust="spacingAndGlyphs">PV</text>
<text x="469.50" y="411.99" font-size="5" font-weight="bold" text-anchor="middle" fill="#000" textLength="6.0" lengthAdjust="spacingAndGlyphs">ET</text>
<text x="499.60" y="410.59" font-size="5" font-weight="bold" text-anchor="middle" fill="#000" textLength="6.8" lengthAdjust="spacingAndGlyphs">MF</text>
<text x="396.40" y="420.09" font-size="5" font-weight="bold" text-anchor="start" fill="#000" textLength="6.7" lengthAdjust="spacingAndGlyphs">n =</text>
<text x="416.40" y="420.09" font-size="5" font-weight="bold" text-anchor="middle" fill="#000">4</text>
<text x="442.00" y="420.09" font-size="5" font-weight="bold" text-anchor="middle" fill="#000">4</text>
<text x="468.70" y="420.09" font-size="5" font-weight="bold" text-anchor="middle" fill="#000">6</text>
<text x="501.00" y="420.09" font-size="5" font-weight="bold" text-anchor="middle" fill="#000">2</text>
<text x="509.60" y="420.09" font-size="5" font-weight="bold" text-anchor="start" fill="#000" textLength="10.0" lengthAdjust="spacingAndGlyphs">= 16</text>
</g>
</g>
</svg>
</body></html>
